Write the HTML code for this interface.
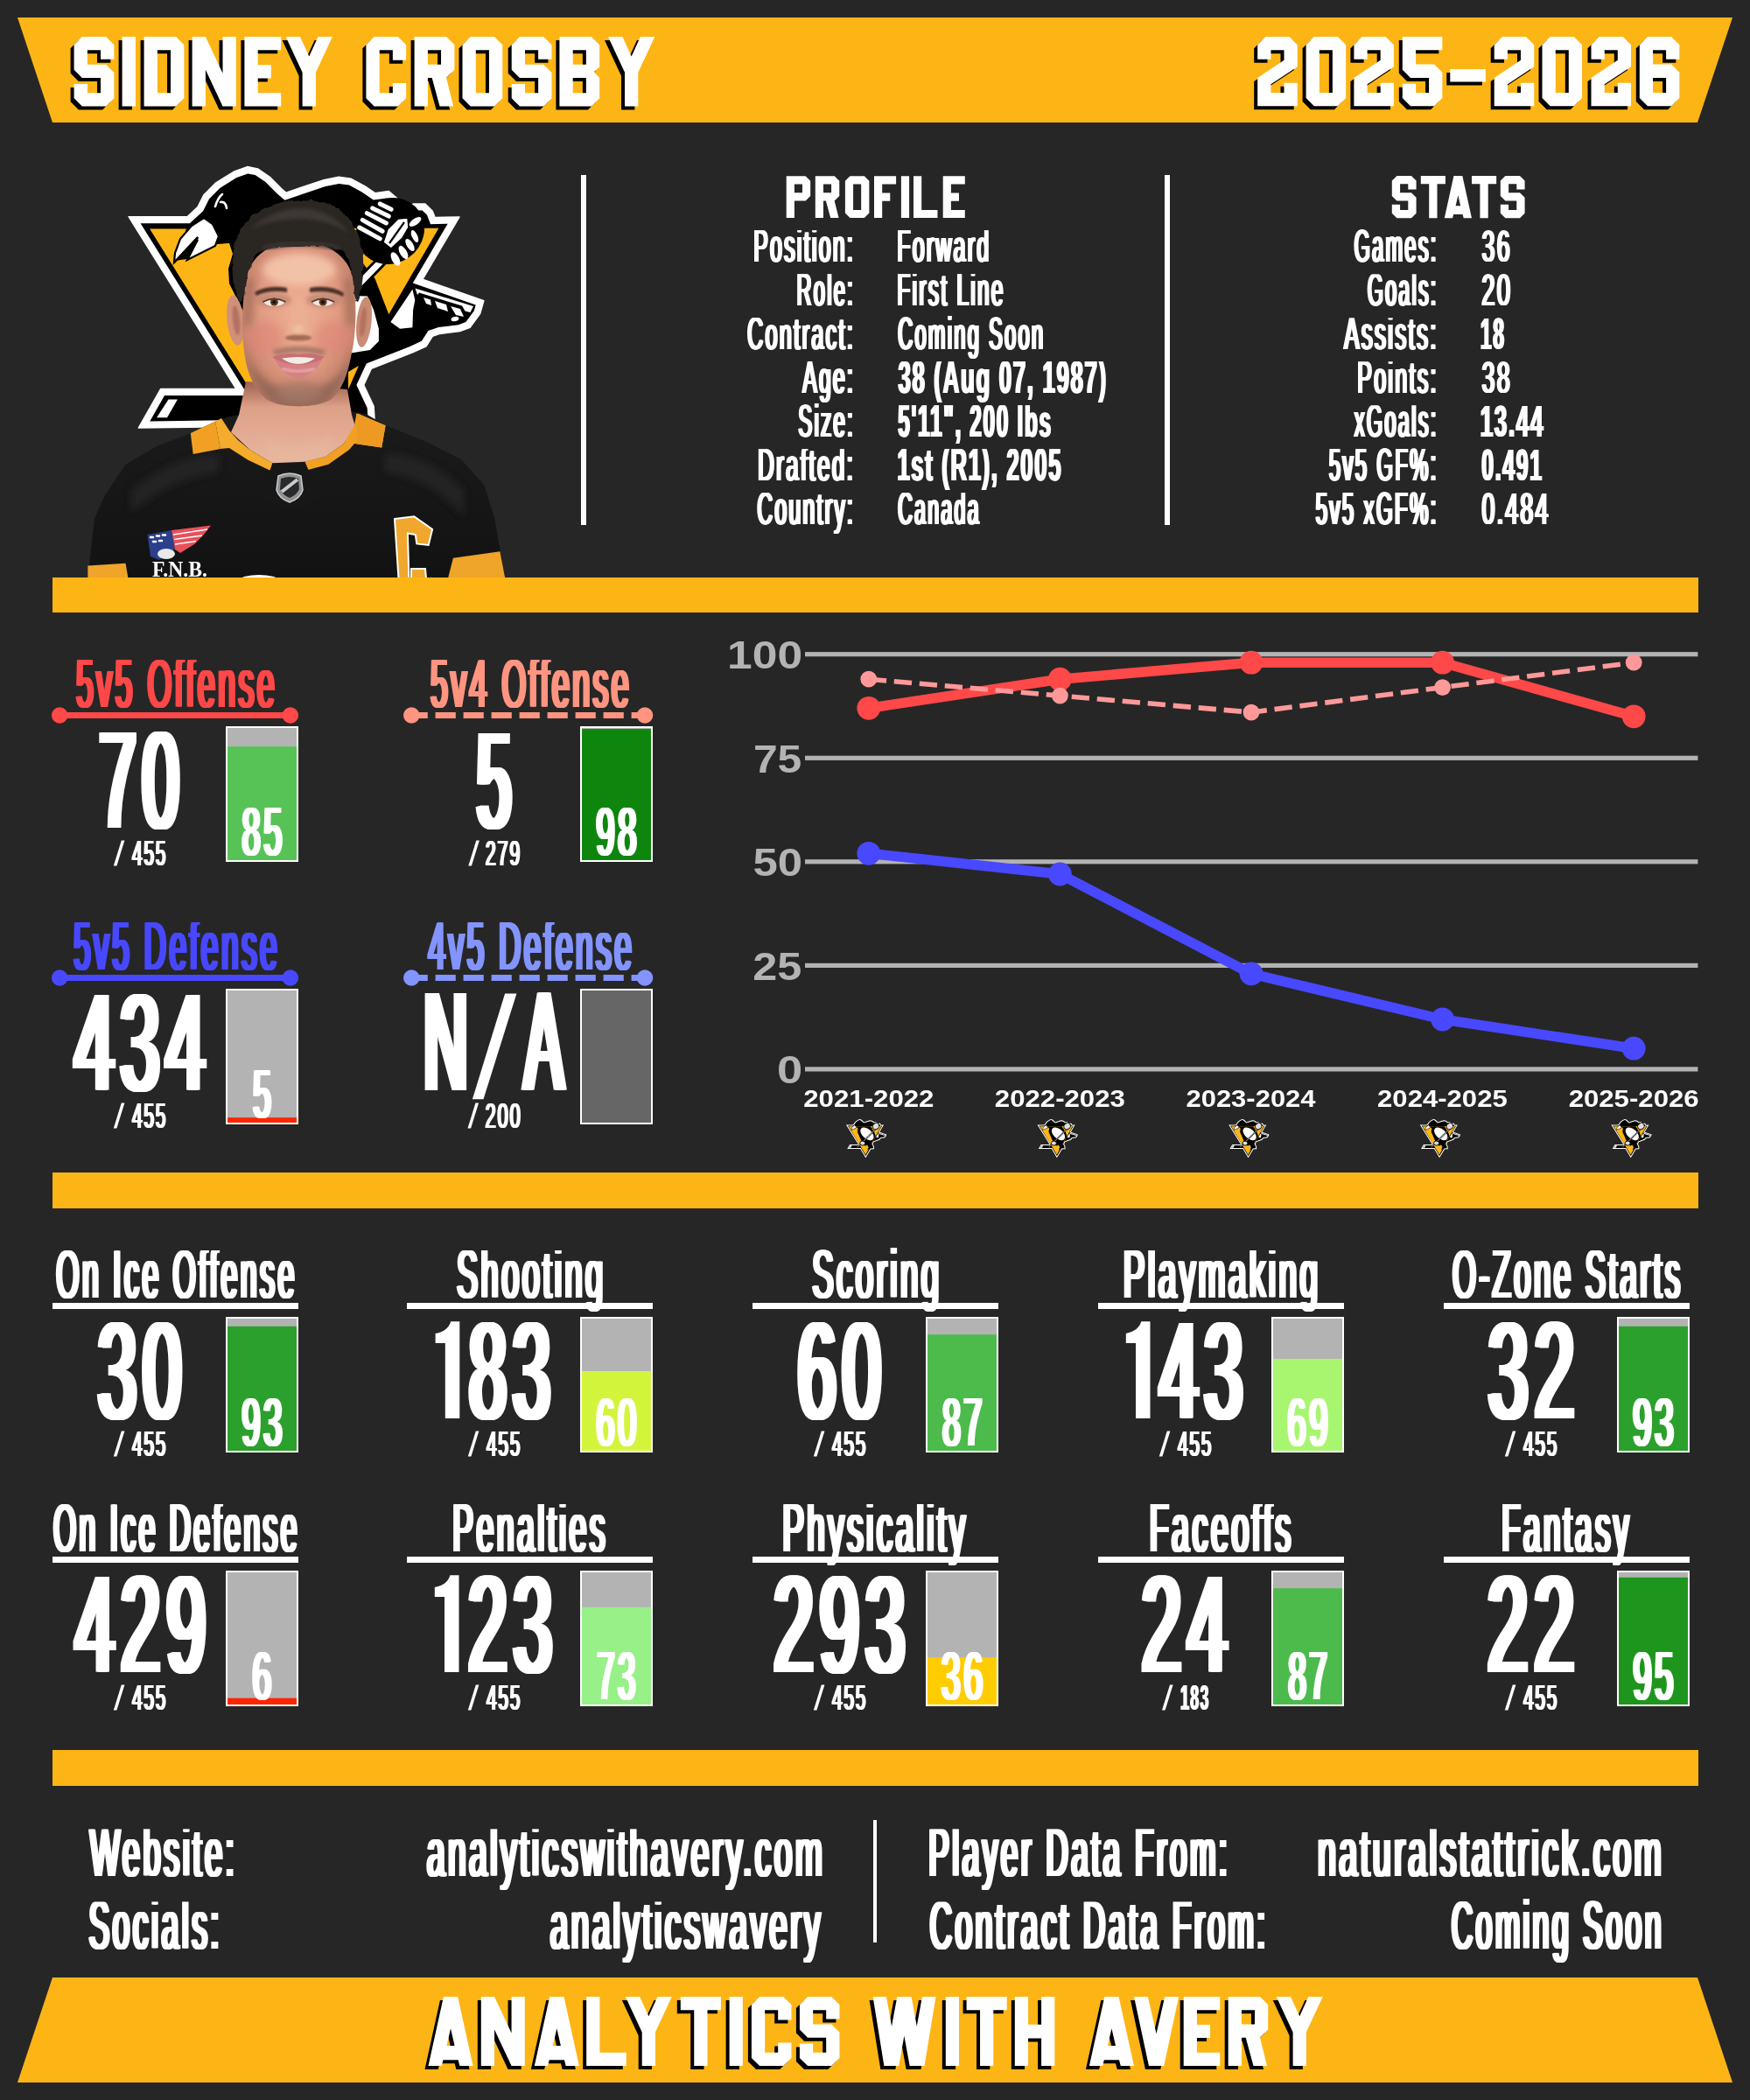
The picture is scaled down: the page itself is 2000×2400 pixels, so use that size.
<!DOCTYPE html><html><head><meta charset="utf-8"><title>Player Card</title>
<style>html,body{margin:0;padding:0;background:#262626;}svg{display:block;will-change:transform}text{font-family:"Liberation Sans",sans-serif;white-space:pre}</style></head><body>
<svg width="2000" height="2400" viewBox="0 0 2000 2400">
<rect width="2000" height="2400" fill="#262626"/>
<polygon points="20,20 1980,20 1940,140 60,140" fill="#FDB515"/>
<polygon points="60,2260 1940,2260 1980,2380 20,2380" fill="#FDB515"/>
<rect x="60" y="660" width="1881" height="40" fill="#FDB515"/>
<rect x="60" y="1340" width="1881" height="41" fill="#FDB515"/>
<rect x="60" y="2000" width="1881" height="41" fill="#FDB515"/>
<rect x="664" y="200" width="6" height="400" fill="#fff"/>
<rect x="1331" y="200" width="6" height="400" fill="#fff"/>
<rect x="998" y="2080" width="4" height="140" fill="#fff"/>
<g id="logo">
<polygon points="147.1,247.7 214.0,247.7 226.0,236.6 232.9,222.9 246.6,209.1 267.1,196.3 282.6,190.6 294.6,192.9 308.3,202.3 322.0,216.0 327.1,220.3 344.3,214.3 370.0,205.7 387.1,202.3 401.4,204.3 417.1,212.9 428.6,220.7 444.3,218.6 454.3,227.1 461.4,237.1 472.9,232.9 485.7,232.9 494.3,241.4 497.1,248.6 525.0,247.9 482.9,319.3 552.9,343.6 548.6,358.6 537.1,374.3 525.7,378.6 502.9,381.4 494.3,384.3 487.1,395.7 471.4,402.9 424.3,421.4 415.7,440.0 427.1,464.3 427.9,477.1 428.0,500.0 250.0,500.0 250.5,487.7 158.3,489.1 183.6,444.6 270.0,444.6" fill="#fff" stroke="#fff" stroke-width="1.5" stroke-linejoin="round"/>
<polygon points="160.6,255.2 283.5,452.1 188.0,452.1 171.3,481.4 258.3,480.1 257.8,492.5 420.5,492.5 420.4,477.4 419.7,466.2 407.4,440.0 418.8,415.5 468.5,396.0 481.9,389.8 489.4,378.0 501.2,374.0 523.9,371.3 532.4,368.1 541.8,355.2 543.7,348.4 471.8,323.4 511.7,255.7 492.0,256.2 487.9,245.6 482.6,240.4 474.2,240.4 458.6,246.1 448.7,232.2 442.0,226.5 426.8,228.5 413.2,219.3 399.0,211.5 387.3,209.9 371.9,213.0 346.7,221.4 325.5,228.8 316.9,221.5 303.5,208.1 291.6,200.0 283.2,198.4 270.4,203.1 251.3,215.0 239.1,227.3 232.1,241.2 216.9,255.2 160.6,255.2" fill="#000"/>
<polygon points="171.1,261.4 213.0,261.4 199.0,298.0 214.0,296.0 248.0,279.0 262.0,278.0 266.0,290.0 261.0,307.0 262.0,324.0 268.0,336.0 275.0,350.0 300.0,400.0 300.0,520.0 332.5,520.0" fill="#FDB515"/>
<polygon points="395.0,261.0 501.4,260.7 444.3,359.3 428.6,318.6 414.0,300.0 412.0,290.0 400.0,275.0" fill="#FDB515"/>
<polygon points="398.0,425.0 410.0,418.0 402.0,436.0 398.0,445.0" fill="#FDB515"/>
<path d="M233,249 L219,258 L206,273 L200,289 L199,300 L213,286 L226,274 L214,297 L246,281 L250,270 L243,256 Z" fill="#fff" stroke="#000" stroke-width="2.2" stroke-linejoin="miter"/>
<path d="M199,300 L226,271 L214,297" fill="none" stroke="#000" stroke-width="2.5"/>
<path d="M246,236 Q249,226 254,222 M252,231 Q258,230 259,238" fill="none" stroke="#fff" stroke-width="2.6" stroke-linecap="round"/>
<polygon points="398.0,338.0 420.0,338.6 427.1,354.3 432.9,375.7 432.9,390.0 422.9,400.0 398.0,404.0" fill="#fff"/>
<polygon points="446.4,367.9 471.4,330.7 474.3,342.9 472.1,354.3 471.4,374.3 457.1,375.7" fill="#fff"/>
<polygon points="474.5,329.5 541.0,350.0 537.5,357.0 531.5,355.5 528.0,349.5 479.0,334.5 477.0,337.0" fill="#fff"/>
<polygon points="484.0,340.0 492.0,342.5 493.0,349.0 487.0,347.0" fill="#fff"/>
<polygon points="497.0,344.0 510.0,348.0 512.0,356.0 500.0,352.0" fill="#fff"/>
<polygon points="515.0,350.0 526.0,353.0 530.0,362.0 521.0,360.0" fill="#fff"/>
<ellipse cx="520" cy="364.5" rx="4.5" ry="2.6" fill="#fff" transform="rotate(-12 520 364.5)"/>
<line x1="443" y1="291" x2="410" y2="325" stroke="#000" stroke-width="13"/>
<line x1="443" y1="291" x2="408" y2="327" stroke="#fff" stroke-width="7"/>
<ellipse cx="446" cy="264" rx="40" ry="37" fill="#000" transform="rotate(-35 446 264)"/>
<line x1="410.7" y1="260" x2="434.3" y2="272.9" stroke="#fff" stroke-width="5" stroke-linecap="round"/>
<line x1="414.3" y1="251.4" x2="437.1" y2="264.3" stroke="#fff" stroke-width="5" stroke-linecap="round"/>
<line x1="419.3" y1="243.6" x2="441.4" y2="255" stroke="#fff" stroke-width="5" stroke-linecap="round"/>
<line x1="425.7" y1="237.9" x2="444.3" y2="247.1" stroke="#fff" stroke-width="5" stroke-linecap="round"/>
<line x1="434.3" y1="232.9" x2="447.1" y2="239.3" stroke="#fff" stroke-width="5" stroke-linecap="round"/>
<polygon points="438.0,277.0 443.0,262.0 455.0,250.0 466.0,249.0 467.0,260.0 460.0,272.0 447.0,284.0" fill="#fff" stroke="#000" stroke-width="1.5"/>
<path d="M445,278 L462,254" stroke="#000" stroke-width="2.2" fill="none"/>
<ellipse cx="474.5" cy="253.5" rx="8" ry="3.6" fill="#fff" transform="rotate(-35 474.5 253.5)"/>
<ellipse cx="452" cy="296" rx="4.2" ry="8.5" fill="#fff" transform="rotate(-28 452 296)"/>
<ellipse cx="461" cy="288.5" rx="4" ry="8.5" fill="#fff" transform="rotate(-30 461 288.5)"/>
<ellipse cx="468.5" cy="280" rx="3.6" ry="8" fill="#fff" transform="rotate(-32 468.5 280)"/>
<ellipse cx="474" cy="270" rx="3.2" ry="7.5" fill="#fff" transform="rotate(-25 474 270)"/>
<polygon points="179.1,477.3 192.5,456.5 202.9,456.5 191.0,477.3" fill="#fff"/>
</g>
<defs>
<radialGradient id="skin" cx="0.5" cy="0.42" r="0.62"><stop offset="0" stop-color="#EFB196"/><stop offset="0.55" stop-color="#E29B82"/><stop offset="1" stop-color="#B97762"/></radialGradient>
<linearGradient id="neck" x1="0" y1="0" x2="0" y2="1"><stop offset="0" stop-color="#9C6250"/><stop offset="0.3" stop-color="#DDA088"/><stop offset="1" stop-color="#EAB8A0"/></linearGradient>
<linearGradient id="jersey" x1="0" y1="0" x2="0" y2="1"><stop offset="0" stop-color="#1b1b1b"/><stop offset="1" stop-color="#121212"/></linearGradient>
<filter id="rough" x="-10%" y="-10%" width="120%" height="120%"><feTurbulence type="fractalNoise" baseFrequency="0.12" numOctaves="2" seed="3" result="n"/><feDisplacementMap in="SourceGraphic" in2="n" scale="5" xChannelSelector="R" yChannelSelector="G"/></filter>
<filter id="bl1" x="-20%" y="-20%" width="140%" height="140%"><feGaussianBlur stdDeviation="1.2"/></filter>
<filter id="bl3" x="-30%" y="-30%" width="160%" height="160%"><feGaussianBlur stdDeviation="4"/></filter>
<filter id="bl2" x="-30%" y="-30%" width="160%" height="160%"><feGaussianBlur stdDeviation="2.2"/></filter>
<clipPath id="photoclip"><rect x="90" y="200" width="500" height="460"/></clipPath>
<clipPath id="faceclip"><path id="facepath" d="M281,322 C276,350 276,385 280,408 C283,428 291,445 304,456 C320,467 362,467 379,456 C391,445 397,428 401,408 C407,385 408,350 404,322 C400,290 370,276 342,276 C312,276 285,290 281,322 Z"/></clipPath>
</defs>
<g clip-path="url(#photoclip)">
<polygon points="100.4,661.0 107.8,593.0 119.7,566.4 143.5,530.7 179.1,510.0 217.8,495.0 246.0,481.7 262.0,476.0 300.0,470.0 400.0,470.0 418.0,473.0 440.6,486.0 485.2,504.0 526.8,524.8 553.5,554.5 565.4,593.0 577.3,661.0" fill="url(#jersey)"/>
<path d="M150,560 Q200,520 250,520 L250,540 Q200,545 150,585 Z" fill="#262626" filter="url(#bl3)" opacity="0.8"/>
<path d="M530,560 Q490,520 440,518 L440,540 Q490,545 530,590 Z" fill="#262626" filter="url(#bl3)" opacity="0.8"/>
<polygon points="281.0,436.0 273.0,474.3 264.0,494.0 286.1,514.4 311.4,529.3 330.0,534.0 348.5,527.8 372.3,521.8 393.1,507.0 406.0,487.0 402.0,474.3 397.0,445.0" fill="url(#neck)"/>
<path d="M300,500 Q338,522 380,498 L372,520 Q338,536 312,526 Z" fill="#E6B79C" filter="url(#bl3)" opacity="0.7"/>
<polygon points="217.8,495.1 246.0,481.7 251.9,512.9 220.7,518.9" fill="#F2A024"/>
<polygon points="246.0,481.7 253.0,478.0 262.0,492.0 272.0,503.0 286.0,514.4 311.4,529.3 311.4,539.0 283.1,525.5 262.0,512.0 251.9,512.9" fill="#F5AB2C"/>
<polygon points="348.5,527.8 372.3,521.8 393.1,507.0 405.0,486.2 407.4,472.8 409.4,472.8 440.6,486.2 436.2,511.4 405.0,507.0 399.0,514.0 375.3,530.7 350.0,537.5" fill="#F2A024"/>
<polygon points="407.4,472.8 440.6,486.2 436.2,511.4 408.0,507.5" fill="#EE9A22"/>
<polygon points="311.4,529.3 348.5,527.8 366.0,569.0 331.0,584.0 297.0,569.0" fill="#171717"/>
<path d="M318,544 Q331,538 344,544 L346,560 Q343,570 331,574 Q319,570 316,560 Z" fill="#8f9294" stroke="#c9cccf" stroke-width="1.5"/>
<path d="M321,547 Q331,543 341,547 L342,559 Q339,566 331,569 Q323,566 320,559 Z" fill="#2a2a2a"/>
<path d="M322,562 L340,548" stroke="#c9cccf" stroke-width="4"/>
<polygon points="100.4,646.6 143.5,643.7 146.5,661.0 100.4,661.0" fill="#EFA42A"/>
<polygon points="517.9,637.7 571.4,630.3 577.3,661.0 512.0,661.0" fill="#EFA42A"/>
<polygon points="451.0,593.1 473.3,590.2 494.1,605.0 489.7,622.9 476.3,621.4 474.8,611.0 465.9,609.5 467.4,661.0 455.5,661.0" fill="#F0A72E" stroke="#fff" stroke-width="2"/>
<polygon points="470.0,650.0 486.0,650.0 487.0,661.0 470.0,661.0" fill="#F0A72E" stroke="#fff" stroke-width="2"/>
<polygon points="168.5,611.0 196.0,606.0 200.0,628.0 182.0,640.0 172.0,636.0" fill="#2B3F8C"/>
<polygon points="196.0,606.0 241.0,600.5 232.0,612.0 222.0,622.0 206.0,632.0 200.0,628.0" fill="#E8505B"/>
<path d="M198,611 L237,605 M199,616.5 L231,612 M200,622 L224,618.5" stroke="#fff" stroke-width="1.6"/>
<path d="M172,614 l3,0 M179,612.5 l3,0 M186,611.5 l3,0 M175,619 l3,0 M182,618 l3,0" stroke="#fff" stroke-width="2.6" stroke-linecap="round"/>
<ellipse cx="190" cy="633" rx="10" ry="6" fill="#e9e9e9"/>
<text x="174" y="658.5" style="font-family:&quot;Liberation Serif&quot;,serif" font-weight="bold" font-size="26" fill="#fff" textLength="63" lengthAdjust="spacingAndGlyphs">F.N.B.</text>
<ellipse cx="296" cy="663" rx="22" ry="6" fill="#fff"/>
<ellipse cx="372" cy="664" rx="16" ry="4" fill="#fff"/>
<ellipse cx="269" cy="366" rx="9.5" ry="29" fill="#D0917A" transform="rotate(-6 269 366)"/>
<ellipse cx="416" cy="368" rx="8.5" ry="29" fill="#C98B74" transform="rotate(6 416 368)"/>
<ellipse cx="270" cy="366" rx="4" ry="17" fill="#B4715E" filter="url(#bl1)" transform="rotate(-6 270 366)"/>
<ellipse cx="415" cy="368" rx="3.5" ry="17" fill="#B4715E" filter="url(#bl1)" transform="rotate(6 415 368)"/>
<use href="#facepath" fill="url(#skin)"/>
<g clip-path="url(#faceclip)">
<ellipse cx="342" cy="308" rx="42" ry="18" fill="#F3C6AC" filter="url(#bl3)" opacity="0.9"/>
<ellipse cx="303" cy="386" rx="20" ry="19" fill="#DC8474" filter="url(#bl3)" opacity="0.55"/>
<ellipse cx="381" cy="386" rx="20" ry="19" fill="#DC8474" filter="url(#bl3)" opacity="0.55"/>
<path d="M279,395 C284,440 310,470 342,472 C374,470 400,440 405,395 C396,428 374,446 342,447 C310,446 288,428 279,395 Z" fill="#8C6555" filter="url(#bl3)" opacity="0.85"/>
<path d="M312,400 Q342,392 372,400 L370,406 Q342,399 314,406 Z" fill="#9A6E5E" filter="url(#bl2)" opacity="0.8"/>
<ellipse cx="342" cy="448" rx="26" ry="13" fill="#A57868" filter="url(#bl3)" opacity="0.75"/>
<path d="M279,318 L292,318 L288,372 L278,372 Z" fill="#A06C58" filter="url(#bl3)" opacity="0.7"/>
<path d="M405,318 L392,318 L396,372 L406,372 Z" fill="#A06C58" filter="url(#bl3)" opacity="0.7"/>
<ellipse cx="313" cy="343" rx="20" ry="8" fill="#B98570" filter="url(#bl2)" opacity="0.7"/>
<ellipse cx="370" cy="343" rx="20" ry="8" fill="#B98570" filter="url(#bl2)" opacity="0.7"/>
<path d="M291,334 Q306,325 328,329 L328,334 Q307,331 293,338 Z" fill="#4A3028" filter="url(#bl1)"/>
<path d="M354,329 Q378,325 393,335 L392,339 Q377,331 354,334 Z" fill="#4A3028" filter="url(#bl1)"/>
<ellipse cx="313.4" cy="345.6" rx="11.5" ry="4.2" fill="#F1E6E0"/>
<circle cx="313.4" cy="345.2" r="4.4" fill="#5B3A22"/>
<circle cx="313.4" cy="345.2" r="2" fill="#1a0f0a"/>
<path d="M300.4,345 Q313.4,338 326.4,345" stroke="#5a3a30" stroke-width="1.8" fill="none"/>
<ellipse cx="369.1" cy="345.6" rx="11.5" ry="4.2" fill="#F1E6E0"/>
<circle cx="369.1" cy="345.2" r="4.4" fill="#5B3A22"/>
<circle cx="369.1" cy="345.2" r="2" fill="#1a0f0a"/>
<path d="M356.1,345 Q369.1,338 382.1,345" stroke="#5a3a30" stroke-width="1.8" fill="none"/>
<path d="M336,350 Q332,372 326,382 Q342,392 357,382 Q351,372 347,350 Z" fill="#E9B093" filter="url(#bl2)" opacity="0.9"/>
<ellipse cx="341" cy="386" rx="15" ry="3.6" fill="#9B6450" filter="url(#bl1)" opacity="0.9"/>
<ellipse cx="341" cy="376" rx="6" ry="5" fill="#F2C3A8" filter="url(#bl2)" opacity="0.8"/>
<path d="M311,408 Q327,402 341,405 Q355,402 371,408 Q356,420 341,421 Q326,420 311,408 Z" fill="#C86F74"/>
<path d="M322,409.5 Q341,406.5 360,409.5 Q352,415.5 341,416 Q330,415.5 322,409.5 Z" fill="#F1ECE4"/>
<path d="M313,410 Q341,424 369,410 Q357,431 341,432 Q325,431 313,410 Z" fill="#D58287"/>
<path d="M322,421 Q341,428 360,421" stroke="#E9A6A6" stroke-width="3" fill="none" filter="url(#bl1)"/>
</g>
<path d="M270,338 C264,318 264,292 270,274 C278,252 296,238 316,233 C334,227 356,227 372,232 C392,238 406,254 412,276 C417,296 416,320 411,340 C408,352 405,340 404,326 C403,306 398,292 390,286 C374,279 356,281 342,282 C322,282 304,283 294,290 C286,298 283,312 281,328 C280,342 274,350 270,338 Z" fill="#2B2624" filter="url(#rough)"/>
<path d="M286,262 Q312,238 346,238 Q380,240 400,268 Q380,252 346,250 Q312,250 286,262 Z" fill="#403A37" filter="url(#bl2)" opacity="0.9"/>
<path d="M300,284 Q342,272 388,284" stroke="#3a3431" stroke-width="5" fill="none" filter="url(#bl2)"/>
</g>
<defs><path id="bk1" d="M93.85,42.00 L121.12,42.00 L130.37,51.25 L130.37,67.67 L115.05,67.67 L115.05,57.32 L99.92,57.32 L99.92,73.64 L121.12,73.64 L130.37,82.89 L130.37,112.35 L121.12,121.60 L93.85,121.60 L84.60,112.35 L84.60,95.93 L99.92,95.93 L99.92,106.28 L115.05,106.28 L115.05,89.06 L93.85,89.06 L84.60,79.81 L84.60,51.25Z M139.60,42.00 L154.92,42.00 L154.92,121.60 L139.60,121.60Z M164.60,42.00 L201.12,42.00 L210.37,51.25 L210.37,112.35 L201.12,121.60 L164.60,121.60Z M179.92,57.32 L195.05,57.32 L195.05,106.28 L179.92,106.28Z M219.60,42.00 L234.92,42.00 L254.52,83.79 L254.52,42.00 L269.85,42.00 L269.85,121.60 L254.52,121.60 L234.92,79.81 L234.92,121.60 L219.60,121.60Z M279.40,42.00 L321.19,42.00 L321.19,57.32 L294.72,57.32 L294.72,74.14 L309.85,74.14 L309.85,89.46 L294.72,89.46 L294.72,106.28 L321.19,106.28 L321.19,121.60 L279.40,121.60Z M326.60,42.00 L343.02,42.00 L353.27,64.39 L363.51,42.00 L379.93,42.00 L360.93,82.80 L360.93,121.60 L345.60,121.60 L345.60,82.80Z M427.65,42.00 L454.92,42.00 L464.17,51.25 L464.17,68.67 L448.85,68.67 L448.85,57.32 L433.72,57.32 L433.72,106.28 L448.85,106.28 L448.85,94.93 L464.17,94.93 L464.17,112.35 L454.92,121.60 L427.65,121.60 L418.40,112.35 L418.40,51.25Z M473.60,42.00 L510.12,42.00 L519.37,51.25 L519.37,79.81 L510.02,88.77 L518.18,121.60 L502.55,121.60 L493.70,89.06 L488.92,89.06 L488.92,121.60 L473.60,121.60Z M488.92,57.32 L504.05,57.32 L504.05,73.64 L488.92,73.64Z M537.75,42.00 L565.02,42.00 L574.27,51.25 L574.27,112.35 L565.02,121.60 L537.75,121.60 L528.50,112.35 L528.50,51.25Z M543.82,57.32 L558.95,57.32 L558.95,106.28 L543.82,106.28Z M593.95,42.00 L621.22,42.00 L630.47,51.25 L630.47,67.67 L615.15,67.67 L615.15,57.32 L600.02,57.32 L600.02,73.64 L621.22,73.64 L630.47,82.89 L630.47,112.35 L621.22,121.60 L593.95,121.60 L584.70,112.35 L584.70,95.93 L600.02,95.93 L600.02,106.28 L615.15,106.28 L615.15,89.06 L593.95,89.06 L584.70,79.81 L584.70,51.25Z M639.40,42.00 L675.92,42.00 L685.17,51.25 L685.17,76.43 L678.80,82.30 L685.17,88.67 L685.17,112.35 L675.92,121.60 L639.40,121.60Z M654.72,57.32 L669.85,57.32 L669.85,73.64 L654.72,73.64Z M654.72,89.06 L669.85,89.06 L669.85,106.28 L654.72,106.28Z M695.00,42.00 L711.42,42.00 L721.67,64.39 L731.91,42.00 L748.33,42.00 L729.33,82.80 L729.33,121.60 L714.00,121.60 L714.00,82.80Z" fill-rule="evenodd"/></defs>
<use href="#bk1" fill="#000" transform="translate(-4,4)"/>
<use href="#bk1" fill="#fff"/>
<defs><path id="bk2" d="M1446.41,42.10 L1473.53,42.10 L1482.74,51.31 L1482.74,76.16 L1452.45,96.35 L1452.45,106.05 L1467.49,106.05 L1467.49,94.77 L1482.74,94.77 L1482.74,121.30 L1437.20,121.30 L1437.20,89.12 L1467.49,68.83 L1467.49,57.35 L1452.45,57.35 L1452.45,67.64 L1437.20,67.64 L1437.20,51.31Z M1501.81,42.10 L1528.93,42.10 L1538.14,51.31 L1538.14,112.09 L1528.93,121.30 L1501.81,121.30 L1492.60,112.09 L1492.60,51.31Z M1507.85,57.35 L1522.89,57.35 L1522.89,106.05 L1507.85,106.05Z M1556.61,42.10 L1583.73,42.10 L1592.94,51.31 L1592.94,76.16 L1562.65,96.35 L1562.65,106.05 L1577.69,106.05 L1577.69,94.77 L1592.94,94.77 L1592.94,121.30 L1547.40,121.30 L1547.40,89.12 L1577.69,68.83 L1577.69,57.35 L1562.65,57.35 L1562.65,67.64 L1547.40,67.64 L1547.40,51.31Z M1602.80,42.10 L1648.34,42.10 L1648.34,57.35 L1618.05,57.35 L1618.05,73.58 L1639.13,73.58 L1648.34,82.79 L1648.34,112.09 L1639.13,121.30 L1612.01,121.30 L1602.80,112.09 L1602.80,95.76 L1618.05,95.76 L1618.05,106.05 L1633.09,106.05 L1633.09,88.93 L1612.01,88.93 L1602.80,79.72Z M1657.30,79.03 L1697.89,79.03 L1697.89,93.38 L1657.30,93.38Z M1716.91,42.10 L1744.03,42.10 L1753.24,51.31 L1753.24,76.16 L1722.95,96.35 L1722.95,106.05 L1737.99,106.05 L1737.99,94.77 L1753.24,94.77 L1753.24,121.30 L1707.70,121.30 L1707.70,89.12 L1737.99,68.83 L1737.99,57.35 L1722.95,57.35 L1722.95,67.64 L1707.70,67.64 L1707.70,51.31Z M1771.71,42.10 L1798.83,42.10 L1808.04,51.31 L1808.04,112.09 L1798.83,121.30 L1771.71,121.30 L1762.50,112.09 L1762.50,51.31Z M1777.75,57.35 L1792.79,57.35 L1792.79,106.05 L1777.75,106.05Z M1827.71,42.10 L1854.83,42.10 L1864.04,51.31 L1864.04,76.16 L1833.75,96.35 L1833.75,106.05 L1848.79,106.05 L1848.79,94.77 L1864.04,94.77 L1864.04,121.30 L1818.50,121.30 L1818.50,89.12 L1848.79,68.83 L1848.79,57.35 L1833.75,57.35 L1833.75,67.64 L1818.50,67.64 L1818.50,51.31Z M1883.01,42.10 L1910.13,42.10 L1919.34,51.31 L1919.34,67.64 L1904.09,67.64 L1904.09,57.35 L1889.05,57.35 L1889.05,73.58 L1910.13,73.58 L1919.34,82.79 L1919.34,112.09 L1910.13,121.30 L1883.01,121.30 L1873.80,112.09 L1873.80,51.31Z M1889.05,88.93 L1904.09,88.93 L1904.09,106.05 L1889.05,106.05Z" fill-rule="evenodd"/></defs>
<use href="#bk2" fill="#000" transform="translate(-4,4)"/>
<use href="#bk2" fill="#fff"/>
<defs><path id="bk3" d="M506.92,2281.90 L523.16,2281.90 L540.58,2361.10 L525.34,2361.10 L523.65,2354.17 L506.43,2354.17 L504.75,2361.10 L489.50,2361.10Z M515.04,2318.23 L519.60,2338.03 L510.49,2338.03Z M549.80,2281.90 L565.05,2281.90 L584.55,2323.48 L584.55,2281.90 L599.79,2281.90 L599.79,2361.10 L584.55,2361.10 L565.05,2319.52 L565.05,2361.10 L549.80,2361.10Z M628.22,2281.90 L644.46,2281.90 L661.88,2361.10 L646.64,2361.10 L644.95,2354.17 L627.73,2354.17 L626.05,2361.10 L610.80,2361.10Z M636.34,2318.23 L640.90,2338.03 L631.79,2338.03Z M670.20,2281.90 L685.45,2281.90 L685.45,2345.85 L715.74,2345.85 L715.74,2361.10 L670.20,2361.10Z M714.80,2281.90 L731.13,2281.90 L741.33,2304.18 L751.53,2281.90 L767.86,2281.90 L748.95,2322.49 L748.95,2361.10 L733.71,2361.10 L733.71,2322.49Z M777.80,2281.90 L823.93,2281.90 L823.93,2297.15 L808.49,2297.15 L808.49,2361.10 L793.24,2361.10 L793.24,2297.15 L777.80,2297.15Z M833.60,2281.90 L848.85,2281.90 L848.85,2361.10 L833.60,2361.10Z M868.11,2281.90 L895.23,2281.90 L904.44,2291.11 L904.44,2308.43 L889.19,2308.43 L889.19,2297.15 L874.15,2297.15 L874.15,2345.85 L889.19,2345.85 L889.19,2334.57 L904.44,2334.57 L904.44,2351.89 L895.23,2361.10 L868.11,2361.10 L858.90,2351.89 L858.90,2291.11Z M923.11,2281.90 L950.23,2281.90 L959.44,2291.11 L959.44,2307.44 L944.19,2307.44 L944.19,2297.15 L929.15,2297.15 L929.15,2313.38 L950.23,2313.38 L959.44,2322.59 L959.44,2351.89 L950.23,2361.10 L923.11,2361.10 L913.90,2351.89 L913.90,2335.56 L929.15,2335.56 L929.15,2345.85 L944.19,2345.85 L944.19,2328.73 L923.11,2328.73 L913.90,2319.52 L913.90,2291.11Z M997.60,2281.90 L1012.95,2281.90 L1019.08,2315.76 L1025.32,2281.90 L1041.56,2281.90 L1047.79,2315.76 L1053.93,2281.90 L1069.57,2281.90 L1056.51,2361.10 L1039.67,2361.10 L1033.34,2326.75 L1027.30,2361.10 L1010.37,2361.10Z M1080.80,2281.90 L1096.05,2281.90 L1096.05,2361.10 L1080.80,2361.10Z M1104.60,2281.90 L1150.73,2281.90 L1150.73,2297.15 L1135.29,2297.15 L1135.29,2361.10 L1120.04,2361.10 L1120.04,2297.15 L1104.60,2297.15Z M1159.80,2281.90 L1175.05,2281.90 L1175.05,2313.78 L1190.09,2313.78 L1190.09,2281.90 L1205.34,2281.90 L1205.34,2361.10 L1190.09,2361.10 L1190.09,2329.42 L1175.05,2329.42 L1175.05,2361.10 L1159.80,2361.10Z M1262.32,2281.90 L1278.56,2281.90 L1295.98,2361.10 L1280.74,2361.10 L1279.06,2354.17 L1261.83,2354.17 L1260.15,2361.10 L1244.90,2361.10Z M1270.44,2318.23 L1275.00,2338.03 L1265.89,2338.03Z M1296.00,2281.90 L1311.84,2281.90 L1321.54,2324.27 L1331.24,2281.90 L1347.18,2281.90 L1330.25,2361.10 L1312.93,2361.10Z M1352.70,2281.90 L1394.28,2281.90 L1394.28,2297.15 L1367.95,2297.15 L1367.95,2313.88 L1382.99,2313.88 L1382.99,2329.12 L1367.95,2329.12 L1367.95,2345.85 L1394.28,2345.85 L1394.28,2361.10 L1352.70,2361.10Z M1403.70,2281.90 L1440.03,2281.90 L1449.24,2291.11 L1449.24,2319.52 L1439.93,2328.43 L1448.05,2361.10 L1432.51,2361.10 L1423.70,2328.73 L1418.95,2328.73 L1418.95,2361.10 L1403.70,2361.10Z M1418.95,2297.15 L1433.99,2297.15 L1433.99,2313.38 L1418.95,2313.38Z M1458.70,2281.90 L1475.04,2281.90 L1485.23,2304.18 L1495.43,2281.90 L1511.76,2281.90 L1492.86,2322.49 L1492.86,2361.10 L1477.61,2361.10 L1477.61,2322.49Z" fill-rule="evenodd"/></defs>
<use href="#bk3" fill="#000" transform="translate(-4,4)"/>
<use href="#bk3" fill="#fff"/>
<defs><path id="bk4" d="M898.70,201.30 L920.63,201.30 L926.19,206.86 L926.19,224.01 L920.63,229.56 L907.90,229.56 L907.90,249.10 L898.70,249.10Z M907.90,210.50 L916.98,210.50 L916.98,220.30 L907.90,220.30Z M931.80,201.30 L953.73,201.30 L959.28,206.86 L959.28,224.01 L953.67,229.38 L958.57,249.10 L949.19,249.10 L943.87,229.56 L941.00,229.56 L941.00,249.10 L931.80,249.10Z M941.00,210.50 L950.08,210.50 L950.08,220.30 L941.00,220.30Z M971.46,201.30 L987.83,201.30 L993.38,206.86 L993.38,243.54 L987.83,249.10 L971.46,249.10 L965.90,243.54 L965.90,206.86Z M975.10,210.50 L984.18,210.50 L984.18,239.90 L975.10,239.90Z M999.00,201.30 L1024.10,201.30 L1024.10,210.50 L1008.20,210.50 L1008.20,220.60 L1017.28,220.60 L1017.28,229.80 L1008.20,229.80 L1008.20,249.10 L999.00,249.10Z M1029.90,201.30 L1039.10,201.30 L1039.10,249.10 L1029.90,249.10Z M1044.00,201.30 L1053.20,201.30 L1053.20,239.90 L1071.48,239.90 L1071.48,249.10 L1044.00,249.10Z M1077.70,201.30 L1102.80,201.30 L1102.80,210.50 L1086.90,210.50 L1086.90,220.60 L1095.98,220.60 L1095.98,229.80 L1086.90,229.80 L1086.90,239.90 L1102.80,239.90 L1102.80,249.10 L1077.70,249.10Z" fill-rule="evenodd"/></defs>
<use href="#bk4" fill="#fff"/>
<defs><path id="bk5" d="M1596.42,201.00 L1612.97,201.00 L1618.58,206.62 L1618.58,216.58 L1609.28,216.58 L1609.28,210.30 L1600.10,210.30 L1600.10,220.21 L1612.97,220.21 L1618.58,225.82 L1618.58,243.70 L1612.97,249.32 L1596.42,249.32 L1590.80,243.70 L1590.80,233.74 L1600.10,233.74 L1600.10,240.02 L1609.28,240.02 L1609.28,229.57 L1596.42,229.57 L1590.80,223.95 L1590.80,206.62Z M1623.80,201.00 L1651.95,201.00 L1651.95,210.30 L1642.52,210.30 L1642.52,249.32 L1633.22,249.32 L1633.22,210.30 L1623.80,210.30Z M1661.43,201.00 L1671.34,201.00 L1681.97,249.32 L1672.66,249.32 L1671.64,245.09 L1661.13,245.09 L1660.10,249.32 L1650.80,249.32Z M1666.38,223.17 L1669.16,235.25 L1663.60,235.25Z M1682.00,201.00 L1710.15,201.00 L1710.15,210.30 L1700.72,210.30 L1700.72,249.32 L1691.42,249.32 L1691.42,210.30 L1682.00,210.30Z M1720.42,201.00 L1736.97,201.00 L1742.58,206.62 L1742.58,216.58 L1733.28,216.58 L1733.28,210.30 L1724.10,210.30 L1724.10,220.21 L1736.97,220.21 L1742.58,225.82 L1742.58,243.70 L1736.97,249.32 L1720.42,249.32 L1714.80,243.70 L1714.80,233.74 L1724.10,233.74 L1724.10,240.02 L1733.28,240.02 L1733.28,229.57 L1720.42,229.57 L1714.80,223.95 L1714.80,206.62Z" fill-rule="evenodd"/></defs>
<use href="#bk5" fill="#fff"/>
<g fill="#fff" font-size="51.16" font-weight="normal" style="letter-spacing:4.984px" >
<text transform="translate(859.99,298.50) scale(0.4803,1)">Position:</text>
<text transform="translate(860.69,298.50) scale(0.4803,1)">Position:</text>
<text transform="translate(861.39,298.50) scale(0.4803,1)">Position:</text>
<text transform="translate(862.10,298.50) scale(0.4803,1)">Position:</text>
<text transform="translate(862.80,298.50) scale(0.4803,1)">Position:</text>
</g>
<rect x="861.0" y="260.5" width="114.0" height="2.6" fill="#262626"/>
<g fill="#fff" font-size="51.16" font-weight="normal" style="letter-spacing:4.968px" >
<text transform="translate(1023.98,298.50) scale(0.4818,1)">Forward</text>
<text transform="translate(1024.68,298.50) scale(0.4818,1)">Forward</text>
<text transform="translate(1025.39,298.50) scale(0.4818,1)">Forward</text>
<text transform="translate(1026.09,298.50) scale(0.4818,1)">Forward</text>
<text transform="translate(1026.79,298.50) scale(0.4818,1)">Forward</text>
</g>
<rect x="1025.0" y="260.5" width="106.0" height="2.6" fill="#262626"/>
<g fill="#fff" font-size="51.16" font-weight="normal" style="letter-spacing:5.252px" >
<text transform="translate(909.29,348.50) scale(0.4557,1)">Role:</text>
<text transform="translate(909.99,348.50) scale(0.4557,1)">Role:</text>
<text transform="translate(910.70,348.50) scale(0.4557,1)">Role:</text>
<text transform="translate(911.40,348.50) scale(0.4557,1)">Role:</text>
<text transform="translate(912.10,348.50) scale(0.4557,1)">Role:</text>
</g>
<rect x="910.2" y="310.5" width="64.8" height="2.6" fill="#262626"/>
<g fill="#fff" font-size="51.16" font-weight="normal" style="letter-spacing:5.061px" >
<text transform="translate(1024.02,348.50) scale(0.4729,1)">First Line</text>
<text transform="translate(1024.72,348.50) scale(0.4729,1)">First Line</text>
<text transform="translate(1025.42,348.50) scale(0.4729,1)">First Line</text>
<text transform="translate(1026.13,348.50) scale(0.4729,1)">First Line</text>
<text transform="translate(1026.83,348.50) scale(0.4729,1)">First Line</text>
</g>
<rect x="1025.0" y="310.5" width="122.8" height="2.6" fill="#262626"/>
<g fill="#fff" font-size="51.16" font-weight="normal" style="letter-spacing:4.894px" >
<text transform="translate(852.75,398.50) scale(0.4891,1)">Contract:</text>
<text transform="translate(853.45,398.50) scale(0.4891,1)">Contract:</text>
<text transform="translate(854.16,398.50) scale(0.4891,1)">Contract:</text>
<text transform="translate(854.86,398.50) scale(0.4891,1)">Contract:</text>
<text transform="translate(855.56,398.50) scale(0.4891,1)">Contract:</text>
</g>
<rect x="853.0" y="360.5" width="122.0" height="2.6" fill="#262626"/>
<g fill="#fff" font-size="51.16" font-weight="normal" style="letter-spacing:5.228px" >
<text transform="translate(1024.83,398.50) scale(0.4579,1)">Coming Soon</text>
<text transform="translate(1025.53,398.50) scale(0.4579,1)">Coming Soon</text>
<text transform="translate(1026.24,398.50) scale(0.4579,1)">Coming Soon</text>
<text transform="translate(1026.94,398.50) scale(0.4579,1)">Coming Soon</text>
<text transform="translate(1027.64,398.50) scale(0.4579,1)">Coming Soon</text>
</g>
<g fill="#fff" font-size="51.16" font-weight="normal" style="letter-spacing:5.016px" >
<text transform="translate(915.95,448.50) scale(0.4772,1)">Age:</text>
<text transform="translate(916.66,448.50) scale(0.4772,1)">Age:</text>
<text transform="translate(917.36,448.50) scale(0.4772,1)">Age:</text>
<text transform="translate(918.06,448.50) scale(0.4772,1)">Age:</text>
<text transform="translate(918.77,448.50) scale(0.4772,1)">Age:</text>
</g>
<g fill="#fff" font-size="51.16" font-weight="bold" style="letter-spacing:3.319px" >
<text transform="translate(1025.43,448.50) scale(0.5049,1)">38 (Aug 07, 1987)</text>
<text transform="translate(1026.42,448.50) scale(0.5049,1)">38 (Aug 07, 1987)</text>
<text transform="translate(1027.40,448.50) scale(0.5049,1)">38 (Aug 07, 1987)</text>
</g>
<rect x="1025.0" y="410.5" width="240.0" height="2.6" fill="#262626"/>
<g fill="#fff" font-size="51.16" font-weight="normal" style="letter-spacing:5.159px" >
<text transform="translate(910.96,498.50) scale(0.4639,1)">Size:</text>
<text transform="translate(911.66,498.50) scale(0.4639,1)">Size:</text>
<text transform="translate(912.36,498.50) scale(0.4639,1)">Size:</text>
<text transform="translate(913.07,498.50) scale(0.4639,1)">Size:</text>
<text transform="translate(913.77,498.50) scale(0.4639,1)">Size:</text>
</g>
<g fill="#fff" font-size="51.16" font-weight="bold" style="letter-spacing:3.511px" >
<text transform="translate(1025.27,498.50) scale(0.4773,1)">5&#x27;11&quot;, 200 lbs</text>
<text transform="translate(1026.25,498.50) scale(0.4773,1)">5&#x27;11&quot;, 200 lbs</text>
<text transform="translate(1027.24,498.50) scale(0.4773,1)">5&#x27;11&quot;, 200 lbs</text>
</g>
<rect x="1025.0" y="460.5" width="177.2" height="2.6" fill="#262626"/>
<g fill="#fff" font-size="51.16" font-weight="normal" style="letter-spacing:4.732px" >
<text transform="translate(864.68,548.50) scale(0.5058,1)">Drafted:</text>
<text transform="translate(865.38,548.50) scale(0.5058,1)">Drafted:</text>
<text transform="translate(866.09,548.50) scale(0.5058,1)">Drafted:</text>
<text transform="translate(866.79,548.50) scale(0.5058,1)">Drafted:</text>
<text transform="translate(867.49,548.50) scale(0.5058,1)">Drafted:</text>
</g>
<rect x="865.8" y="510.5" width="109.2" height="2.6" fill="#262626"/>
<g fill="#fff" font-size="51.16" font-weight="bold" style="letter-spacing:3.344px" >
<text transform="translate(1024.41,548.50) scale(0.5011,1)">1st (R1), 2005</text>
<text transform="translate(1025.40,548.50) scale(0.5011,1)">1st (R1), 2005</text>
<text transform="translate(1026.38,548.50) scale(0.5011,1)">1st (R1), 2005</text>
</g>
<rect x="1025.0" y="510.5" width="188.8" height="2.6" fill="#262626"/>
<g fill="#fff" font-size="51.16" font-weight="normal" style="letter-spacing:4.996px" >
<text transform="translate(863.97,598.50) scale(0.4791,1)">Country:</text>
<text transform="translate(864.68,598.50) scale(0.4791,1)">Country:</text>
<text transform="translate(865.38,598.50) scale(0.4791,1)">Country:</text>
<text transform="translate(866.09,598.50) scale(0.4791,1)">Country:</text>
<text transform="translate(866.79,598.50) scale(0.4791,1)">Country:</text>
</g>
<rect x="864.2" y="560.5" width="110.8" height="2.6" fill="#262626"/>
<g fill="#fff" font-size="51.16" font-weight="normal" style="letter-spacing:5.340px" >
<text transform="translate(1024.85,598.50) scale(0.4483,1)">Canada</text>
<text transform="translate(1025.56,598.50) scale(0.4483,1)">Canada</text>
<text transform="translate(1026.26,598.50) scale(0.4483,1)">Canada</text>
<text transform="translate(1026.97,598.50) scale(0.4483,1)">Canada</text>
<text transform="translate(1027.67,598.50) scale(0.4483,1)">Canada</text>
</g>
<rect x="1025.0" y="560.5" width="96.0" height="2.6" fill="#262626"/>
<g fill="#fff" font-size="51.16" font-weight="normal" style="letter-spacing:5.244px" >
<text transform="translate(1546.23,298.80) scale(0.4565,1)">Games:</text>
<text transform="translate(1546.94,298.80) scale(0.4565,1)">Games:</text>
<text transform="translate(1547.64,298.80) scale(0.4565,1)">Games:</text>
<text transform="translate(1548.34,298.80) scale(0.4565,1)">Games:</text>
<text transform="translate(1549.05,298.80) scale(0.4565,1)">Games:</text>
</g>
<g fill="#fff" font-size="50.29" font-weight="normal" style="letter-spacing:4.552px" >
<text transform="translate(1692.30,298.80) scale(0.5259,1)">36</text>
<text transform="translate(1693.00,298.80) scale(0.5259,1)">36</text>
<text transform="translate(1693.70,298.80) scale(0.5259,1)">36</text>
<text transform="translate(1694.41,298.80) scale(0.5259,1)">36</text>
<text transform="translate(1695.11,298.80) scale(0.5259,1)">36</text>
</g>
<g fill="#fff" font-size="51.16" font-weight="normal" style="letter-spacing:5.327px" >
<text transform="translate(1561.55,348.75) scale(0.4493,1)">Goals:</text>
<text transform="translate(1562.25,348.75) scale(0.4493,1)">Goals:</text>
<text transform="translate(1562.96,348.75) scale(0.4493,1)">Goals:</text>
<text transform="translate(1563.66,348.75) scale(0.4493,1)">Goals:</text>
<text transform="translate(1564.37,348.75) scale(0.4493,1)">Goals:</text>
</g>
<rect x="1561.7" y="310.7" width="80.0" height="2.6" fill="#262626"/>
<g fill="#fff" font-size="50.29" font-weight="normal" style="letter-spacing:4.435px" >
<text transform="translate(1691.94,348.75) scale(0.5397,1)">20</text>
<text transform="translate(1692.65,348.75) scale(0.5397,1)">20</text>
<text transform="translate(1693.35,348.75) scale(0.5397,1)">20</text>
<text transform="translate(1694.06,348.75) scale(0.5397,1)">20</text>
<text transform="translate(1694.76,348.75) scale(0.5397,1)">20</text>
</g>
<g fill="#fff" font-size="51.16" font-weight="normal" style="letter-spacing:4.763px" >
<text transform="translate(1534.85,398.70) scale(0.5025,1)">Assists:</text>
<text transform="translate(1535.55,398.70) scale(0.5025,1)">Assists:</text>
<text transform="translate(1536.26,398.70) scale(0.5025,1)">Assists:</text>
<text transform="translate(1536.96,398.70) scale(0.5025,1)">Assists:</text>
<text transform="translate(1537.66,398.70) scale(0.5025,1)">Assists:</text>
</g>
<rect x="1533.9" y="360.7" width="107.8" height="2.6" fill="#262626"/>
<g fill="#fff" font-size="50.29" font-weight="bold" style="letter-spacing:3.680px" >
<text transform="translate(1690.88,398.70) scale(0.4553,1)">18</text>
<text transform="translate(1691.87,398.70) scale(0.4553,1)">18</text>
<text transform="translate(1692.85,398.70) scale(0.4553,1)">18</text>
</g>
<g fill="#fff" font-size="51.16" font-weight="normal" style="letter-spacing:4.942px" >
<text transform="translate(1549.97,448.65) scale(0.4844,1)">Points:</text>
<text transform="translate(1550.67,448.65) scale(0.4844,1)">Points:</text>
<text transform="translate(1551.38,448.65) scale(0.4844,1)">Points:</text>
<text transform="translate(1552.08,448.65) scale(0.4844,1)">Points:</text>
<text transform="translate(1552.78,448.65) scale(0.4844,1)">Points:</text>
</g>
<rect x="1551.0" y="410.6" width="90.7" height="2.6" fill="#262626"/>
<g fill="#fff" font-size="50.29" font-weight="normal" style="letter-spacing:4.552px" >
<text transform="translate(1692.30,448.65) scale(0.5259,1)">38</text>
<text transform="translate(1693.00,448.65) scale(0.5259,1)">38</text>
<text transform="translate(1693.70,448.65) scale(0.5259,1)">38</text>
<text transform="translate(1694.41,448.65) scale(0.5259,1)">38</text>
<text transform="translate(1695.11,448.65) scale(0.5259,1)">38</text>
</g>
<g fill="#fff" font-size="51.16" font-weight="normal" style="letter-spacing:5.245px" >
<text transform="translate(1546.47,498.60) scale(0.4564,1)">xGoals:</text>
<text transform="translate(1547.17,498.60) scale(0.4564,1)">xGoals:</text>
<text transform="translate(1547.87,498.60) scale(0.4564,1)">xGoals:</text>
<text transform="translate(1548.58,498.60) scale(0.4564,1)">xGoals:</text>
<text transform="translate(1549.28,498.60) scale(0.4564,1)">xGoals:</text>
</g>
<rect x="1545.7" y="460.6" width="96.0" height="2.6" fill="#262626"/>
<g fill="#fff" font-size="50.29" font-weight="bold" style="letter-spacing:3.241px" >
<text transform="translate(1690.69,498.60) scale(0.5170,1)">13.44</text>
<text transform="translate(1691.67,498.60) scale(0.5170,1)">13.44</text>
<text transform="translate(1692.66,498.60) scale(0.5170,1)">13.44</text>
</g>
<g fill="#fff" font-size="51.16" font-weight="normal" style="letter-spacing:5.145px" >
<text transform="translate(1517.45,548.55) scale(0.4652,1)">5v5 GF%:</text>
<text transform="translate(1518.15,548.55) scale(0.4652,1)">5v5 GF%:</text>
<text transform="translate(1518.86,548.55) scale(0.4652,1)">5v5 GF%:</text>
<text transform="translate(1519.56,548.55) scale(0.4652,1)">5v5 GF%:</text>
<text transform="translate(1520.26,548.55) scale(0.4652,1)">5v5 GF%:</text>
</g>
<g fill="#fff" font-size="50.29" font-weight="bold" style="letter-spacing:3.405px" >
<text transform="translate(1692.36,548.55) scale(0.4921,1)">0.491</text>
<text transform="translate(1693.35,548.55) scale(0.4921,1)">0.491</text>
<text transform="translate(1694.33,548.55) scale(0.4921,1)">0.491</text>
</g>
<g fill="#fff" font-size="51.16" font-weight="normal" style="letter-spacing:5.109px" >
<text transform="translate(1502.34,598.50) scale(0.4685,1)">5v5 xGF%:</text>
<text transform="translate(1503.05,598.50) scale(0.4685,1)">5v5 xGF%:</text>
<text transform="translate(1503.75,598.50) scale(0.4685,1)">5v5 xGF%:</text>
<text transform="translate(1504.45,598.50) scale(0.4685,1)">5v5 xGF%:</text>
<text transform="translate(1505.16,598.50) scale(0.4685,1)">5v5 xGF%:</text>
</g>
<g fill="#fff" font-size="50.29" font-weight="normal" style="letter-spacing:4.566px" >
<text transform="translate(1692.30,598.50) scale(0.5242,1)">0.484</text>
<text transform="translate(1693.00,598.50) scale(0.5242,1)">0.484</text>
<text transform="translate(1693.71,598.50) scale(0.5242,1)">0.484</text>
<text transform="translate(1694.41,598.50) scale(0.5242,1)">0.484</text>
<text transform="translate(1695.11,598.50) scale(0.5242,1)">0.484</text>
</g>
<g fill="#FF4848" font-size="77.76" font-weight="normal" style="letter-spacing:7.993px" >
<text transform="translate(84.93,807.70) scale(0.4552,1)">5v5 Offense</text>
<text transform="translate(86.00,807.70) scale(0.4552,1)">5v5 Offense</text>
<text transform="translate(87.07,807.70) scale(0.4552,1)">5v5 Offense</text>
<text transform="translate(88.14,807.70) scale(0.4552,1)">5v5 Offense</text>
<text transform="translate(89.21,807.70) scale(0.4552,1)">5v5 Offense</text>
</g>
<rect x="85.4" y="750.0" width="229.9" height="4.0" fill="#262626"/>
<line x1="68.2" y1="817.5" x2="331.8" y2="817.5" stroke="#FF4848" stroke-width="7"/>
<circle cx="68.2" cy="817.5" r="9.3" fill="#FF4848"/><circle cx="331.8" cy="817.5" r="9.3" fill="#FF4848"/>
<g fill="#fff" font-size="157.86" font-weight="normal" style="letter-spacing:15.909px" >
<text transform="translate(109.52,946.00) scale(0.4723,1)">70</text>
<text transform="translate(110.63,946.00) scale(0.4723,1)">70</text>
<text transform="translate(111.73,946.00) scale(0.4723,1)">70</text>
<text transform="translate(112.84,946.00) scale(0.4723,1)">70</text>
<text transform="translate(113.94,946.00) scale(0.4723,1)">70</text>
<text transform="translate(115.05,946.00) scale(0.4723,1)">70</text>
<text transform="translate(116.15,946.00) scale(0.4723,1)">70</text>
<text transform="translate(117.26,946.00) scale(0.4723,1)">70</text>
<text transform="translate(118.36,946.00) scale(0.4723,1)">70</text>
</g>
<polygon points="129.8,989.4 133.4,989.4 142.4,960.4 138.8,960.4" fill="#fff"/>
<g fill="#fff" font-size="40.71" font-weight="normal" style="letter-spacing:3.823px" >
<text transform="translate(149.95,989.40) scale(0.5069,1)">455</text>
<text transform="translate(151.09,989.40) scale(0.5069,1)">455</text>
<text transform="translate(152.23,989.40) scale(0.5069,1)">455</text>
</g>
<rect x="258" y="830" width="83" height="155" fill="#fff"/>
<rect x="260" y="832" width="79" height="151" fill="#b3b3b3"/>
<rect x="260" y="853.2" width="79" height="129.8" fill="#57C357"/>
<g fill="#fff" font-size="77.86" font-weight="normal" style="letter-spacing:7.653px" >
<text transform="translate(274.47,976.70) scale(0.4843,1)">85</text>
<text transform="translate(275.56,976.70) scale(0.4843,1)">85</text>
<text transform="translate(276.65,976.70) scale(0.4843,1)">85</text>
<text transform="translate(277.74,976.70) scale(0.4843,1)">85</text>
<text transform="translate(278.83,976.70) scale(0.4843,1)">85</text>
</g>
<g fill="#FF9580" font-size="77.76" font-weight="normal" style="letter-spacing:7.993px" >
<text transform="translate(489.93,807.70) scale(0.4552,1)">5v4 Offense</text>
<text transform="translate(491.00,807.70) scale(0.4552,1)">5v4 Offense</text>
<text transform="translate(492.07,807.70) scale(0.4552,1)">5v4 Offense</text>
<text transform="translate(493.14,807.70) scale(0.4552,1)">5v4 Offense</text>
<text transform="translate(494.21,807.70) scale(0.4552,1)">5v4 Offense</text>
</g>
<rect x="490.3" y="750.0" width="229.9" height="4.0" fill="#262626"/>
<line x1="470.3" y1="817.5" x2="737" y2="817.5" stroke="#FF9580" stroke-width="7" stroke-dasharray="23.2 8.8" stroke-dashoffset="4.699999999999999"/>
<circle cx="470.3" cy="817.5" r="9.3" fill="#FF9580"/><circle cx="737" cy="817.5" r="9.3" fill="#FF9580"/>
<g fill="#fff" font-size="157.86" font-weight="normal" style="letter-spacing:16.874px" >
<text transform="translate(540.64,946.00) scale(0.4453,1)">5</text>
<text transform="translate(541.74,946.00) scale(0.4453,1)">5</text>
<text transform="translate(542.85,946.00) scale(0.4453,1)">5</text>
<text transform="translate(543.95,946.00) scale(0.4453,1)">5</text>
<text transform="translate(545.06,946.00) scale(0.4453,1)">5</text>
<text transform="translate(546.16,946.00) scale(0.4453,1)">5</text>
<text transform="translate(547.27,946.00) scale(0.4453,1)">5</text>
<text transform="translate(548.37,946.00) scale(0.4453,1)">5</text>
<text transform="translate(549.48,946.00) scale(0.4453,1)">5</text>
</g>
<polygon points="535.3,989.4 538.9,989.4 547.9,960.4 544.3,960.4" fill="#fff"/>
<g fill="#fff" font-size="40.71" font-weight="normal" style="letter-spacing:3.709px" >
<text transform="translate(553.64,989.40) scale(0.5225,1)">279</text>
<text transform="translate(554.78,989.40) scale(0.5225,1)">279</text>
<text transform="translate(555.92,989.40) scale(0.5225,1)">279</text>
</g>
<rect x="663" y="830" width="83" height="155" fill="#fff"/>
<rect x="665" y="832" width="79" height="151" fill="#b3b3b3"/>
<rect x="665" y="833.1" width="79" height="149.9" fill="#0E860E"/>
<g fill="#fff" font-size="77.86" font-weight="normal" style="letter-spacing:7.589px" >
<text transform="translate(679.25,976.70) scale(0.4883,1)">98</text>
<text transform="translate(680.34,976.70) scale(0.4883,1)">98</text>
<text transform="translate(681.43,976.70) scale(0.4883,1)">98</text>
<text transform="translate(682.52,976.70) scale(0.4883,1)">98</text>
<text transform="translate(683.61,976.70) scale(0.4883,1)">98</text>
</g>
<g fill="#4848FF" font-size="77.76" font-weight="normal" style="letter-spacing:8.096px" >
<text transform="translate(81.95,1107.70) scale(0.4494,1)">5v5 Defense</text>
<text transform="translate(83.02,1107.70) scale(0.4494,1)">5v5 Defense</text>
<text transform="translate(84.09,1107.70) scale(0.4494,1)">5v5 Defense</text>
<text transform="translate(85.16,1107.70) scale(0.4494,1)">5v5 Defense</text>
<text transform="translate(86.23,1107.70) scale(0.4494,1)">5v5 Defense</text>
</g>
<rect x="82.4" y="1050.0" width="235.9" height="4.0" fill="#262626"/>
<line x1="68.2" y1="1117.5" x2="331.8" y2="1117.5" stroke="#4848FF" stroke-width="7"/>
<circle cx="68.2" cy="1117.5" r="9.3" fill="#4848FF"/><circle cx="331.8" cy="1117.5" r="9.3" fill="#4848FF"/>
<g fill="#fff" font-size="157.86" font-weight="normal" style="letter-spacing:14.793px" >
<text transform="translate(81.04,1246.00) scale(0.5079,1)">434</text>
<text transform="translate(82.14,1246.00) scale(0.5079,1)">434</text>
<text transform="translate(83.25,1246.00) scale(0.5079,1)">434</text>
<text transform="translate(84.35,1246.00) scale(0.5079,1)">434</text>
<text transform="translate(85.46,1246.00) scale(0.5079,1)">434</text>
<text transform="translate(86.56,1246.00) scale(0.5079,1)">434</text>
<text transform="translate(87.67,1246.00) scale(0.5079,1)">434</text>
<text transform="translate(88.77,1246.00) scale(0.5079,1)">434</text>
<text transform="translate(89.88,1246.00) scale(0.5079,1)">434</text>
</g>
<polygon points="129.8,1289.4 133.4,1289.4 142.4,1260.4 138.8,1260.4" fill="#fff"/>
<g fill="#fff" font-size="40.71" font-weight="normal" style="letter-spacing:3.823px" >
<text transform="translate(149.95,1289.40) scale(0.5069,1)">455</text>
<text transform="translate(151.09,1289.40) scale(0.5069,1)">455</text>
<text transform="translate(152.23,1289.40) scale(0.5069,1)">455</text>
</g>
<rect x="258" y="1130" width="83" height="155" fill="#fff"/>
<rect x="260" y="1132" width="79" height="151" fill="#b3b3b3"/>
<rect x="260" y="1277.2" width="79" height="5.8" fill="#FF2400"/>
<g fill="#fff" font-size="77.86" font-weight="normal" style="letter-spacing:7.830px" >
<text transform="translate(287.08,1276.70) scale(0.4733,1)">5</text>
<text transform="translate(288.17,1276.70) scale(0.4733,1)">5</text>
<text transform="translate(289.26,1276.70) scale(0.4733,1)">5</text>
<text transform="translate(290.35,1276.70) scale(0.4733,1)">5</text>
<text transform="translate(291.44,1276.70) scale(0.4733,1)">5</text>
</g>
<g fill="#8394FF" font-size="77.76" font-weight="normal" style="letter-spacing:8.118px" >
<text transform="translate(487.53,1107.70) scale(0.4481,1)">4v5 Defense</text>
<text transform="translate(488.60,1107.70) scale(0.4481,1)">4v5 Defense</text>
<text transform="translate(489.67,1107.70) scale(0.4481,1)">4v5 Defense</text>
<text transform="translate(490.74,1107.70) scale(0.4481,1)">4v5 Defense</text>
<text transform="translate(491.81,1107.70) scale(0.4481,1)">4v5 Defense</text>
</g>
<rect x="487.3" y="1050.0" width="236.0" height="4.0" fill="#262626"/>
<line x1="470.3" y1="1117.5" x2="737" y2="1117.5" stroke="#8394FF" stroke-width="7" stroke-dasharray="23.2 8.8" stroke-dashoffset="4.699999999999999"/>
<circle cx="470.3" cy="1117.5" r="9.3" fill="#8394FF"/><circle cx="737" cy="1117.5" r="9.3" fill="#8394FF"/>
<g fill="#fff" font-size="160.61" font-weight="normal" style="letter-spacing:17.436px" >
<text transform="translate(480.02,1246.00) scale(0.4309,1)">N</text>
<text transform="translate(481.13,1246.00) scale(0.4309,1)">N</text>
<text transform="translate(482.23,1246.00) scale(0.4309,1)">N</text>
<text transform="translate(483.34,1246.00) scale(0.4309,1)">N</text>
<text transform="translate(484.44,1246.00) scale(0.4309,1)">N</text>
<text transform="translate(485.55,1246.00) scale(0.4309,1)">N</text>
<text transform="translate(486.65,1246.00) scale(0.4309,1)">N</text>
<text transform="translate(487.76,1246.00) scale(0.4309,1)">N</text>
<text transform="translate(488.86,1246.00) scale(0.4309,1)">N</text>
</g>
<polygon points="577.1,1135.6 590.4,1135.6 552.5,1256.3 539.9,1256.3" fill="#fff"/>
<g fill="#fff" font-size="160.61" font-weight="normal" style="letter-spacing:18.312px" >
<text transform="translate(595.27,1246.00) scale(0.4103,1)">A</text>
<text transform="translate(596.37,1246.00) scale(0.4103,1)">A</text>
<text transform="translate(597.48,1246.00) scale(0.4103,1)">A</text>
<text transform="translate(598.58,1246.00) scale(0.4103,1)">A</text>
<text transform="translate(599.69,1246.00) scale(0.4103,1)">A</text>
<text transform="translate(600.79,1246.00) scale(0.4103,1)">A</text>
<text transform="translate(601.90,1246.00) scale(0.4103,1)">A</text>
<text transform="translate(603.00,1246.00) scale(0.4103,1)">A</text>
<text transform="translate(604.11,1246.00) scale(0.4103,1)">A</text>
</g>
<polygon points="534.5,1289.4 538.1,1289.4 547.1,1260.4 543.5,1260.4" fill="#fff"/>
<g fill="#fff" font-size="40.71" font-weight="normal" style="letter-spacing:3.641px" >
<text transform="translate(553.52,1289.40) scale(0.5323,1)">200</text>
<text transform="translate(554.66,1289.40) scale(0.5323,1)">200</text>
<text transform="translate(555.80,1289.40) scale(0.5323,1)">200</text>
</g>
<rect x="663" y="1130" width="83" height="155" fill="#fff"/>
<rect x="665" y="1132" width="79" height="151" fill="#666666"/>
<g fill="#fff" font-size="77.76" font-weight="normal" style="letter-spacing:8.451px" >
<text transform="translate(62.21,1482.70) scale(0.4305,1)">On Ice Offense</text>
<text transform="translate(63.28,1482.70) scale(0.4305,1)">On Ice Offense</text>
<text transform="translate(64.35,1482.70) scale(0.4305,1)">On Ice Offense</text>
<text transform="translate(65.42,1482.70) scale(0.4305,1)">On Ice Offense</text>
<text transform="translate(66.49,1482.70) scale(0.4305,1)">On Ice Offense</text>
</g>
<rect x="62.8" y="1425.0" width="275.1" height="4.0" fill="#262626"/>
<rect x="60" y="1489" width="281" height="7" fill="#fff"/>
<g fill="#fff" font-size="157.86" font-weight="normal" style="letter-spacing:15.088px" >
<text transform="translate(107.71,1621.00) scale(0.4980,1)">30</text>
<text transform="translate(108.82,1621.00) scale(0.4980,1)">30</text>
<text transform="translate(109.92,1621.00) scale(0.4980,1)">30</text>
<text transform="translate(111.03,1621.00) scale(0.4980,1)">30</text>
<text transform="translate(112.13,1621.00) scale(0.4980,1)">30</text>
<text transform="translate(113.24,1621.00) scale(0.4980,1)">30</text>
<text transform="translate(114.34,1621.00) scale(0.4980,1)">30</text>
<text transform="translate(115.45,1621.00) scale(0.4980,1)">30</text>
<text transform="translate(116.55,1621.00) scale(0.4980,1)">30</text>
</g>
<polygon points="129.8,1664.4 133.4,1664.4 142.4,1635.4 138.8,1635.4" fill="#fff"/>
<g fill="#fff" font-size="40.71" font-weight="normal" style="letter-spacing:3.823px" >
<text transform="translate(149.95,1664.40) scale(0.5069,1)">455</text>
<text transform="translate(151.09,1664.40) scale(0.5069,1)">455</text>
<text transform="translate(152.23,1664.40) scale(0.5069,1)">455</text>
</g>
<rect x="258" y="1505" width="83" height="155" fill="#fff"/>
<rect x="260" y="1507" width="79" height="151" fill="#b3b3b3"/>
<rect x="260" y="1515.8" width="79" height="142.2" fill="#2CA02C"/>
<g fill="#fff" font-size="77.86" font-weight="normal" style="letter-spacing:7.589px" >
<text transform="translate(274.25,1651.70) scale(0.4883,1)">93</text>
<text transform="translate(275.34,1651.70) scale(0.4883,1)">93</text>
<text transform="translate(276.43,1651.70) scale(0.4883,1)">93</text>
<text transform="translate(277.52,1651.70) scale(0.4883,1)">93</text>
<text transform="translate(278.61,1651.70) scale(0.4883,1)">93</text>
</g>
<g fill="#fff" font-size="77.76" font-weight="normal" style="letter-spacing:7.892px" >
<text transform="translate(520.02,1482.70) scale(0.4610,1)">Shooting</text>
<text transform="translate(521.09,1482.70) scale(0.4610,1)">Shooting</text>
<text transform="translate(522.16,1482.70) scale(0.4610,1)">Shooting</text>
<text transform="translate(523.23,1482.70) scale(0.4610,1)">Shooting</text>
<text transform="translate(524.30,1482.70) scale(0.4610,1)">Shooting</text>
</g>
<rect x="520.6" y="1425.0" width="169.4" height="4.0" fill="#262626"/>
<rect x="465" y="1489" width="281" height="7" fill="#fff"/>
<path d="M515.20,1510.30 Q512.00,1521.50 497.60,1523.90 L497.60,1535.10 L508.80,1535.10 L508.80,1621.00 L525.30,1621.00 L525.30,1510.30 Z" fill="#fff"/>
<g fill="#fff" font-size="157.86" font-weight="normal" style="letter-spacing:15.584px" >
<text transform="translate(532.00,1621.00) scale(0.4822,1)">83</text>
<text transform="translate(533.11,1621.00) scale(0.4822,1)">83</text>
<text transform="translate(534.21,1621.00) scale(0.4822,1)">83</text>
<text transform="translate(535.32,1621.00) scale(0.4822,1)">83</text>
<text transform="translate(536.42,1621.00) scale(0.4822,1)">83</text>
<text transform="translate(537.53,1621.00) scale(0.4822,1)">83</text>
<text transform="translate(538.63,1621.00) scale(0.4822,1)">83</text>
<text transform="translate(539.74,1621.00) scale(0.4822,1)">83</text>
<text transform="translate(540.84,1621.00) scale(0.4822,1)">83</text>
</g>
<polygon points="534.8,1664.4 538.4,1664.4 547.4,1635.4 543.8,1635.4" fill="#fff"/>
<g fill="#fff" font-size="40.71" font-weight="normal" style="letter-spacing:3.823px" >
<text transform="translate(554.95,1664.40) scale(0.5069,1)">455</text>
<text transform="translate(556.09,1664.40) scale(0.5069,1)">455</text>
<text transform="translate(557.23,1664.40) scale(0.5069,1)">455</text>
</g>
<rect x="663" y="1505" width="83" height="155" fill="#fff"/>
<rect x="665" y="1507" width="79" height="151" fill="#b3b3b3"/>
<rect x="665" y="1567.0" width="79" height="91.0" fill="#D2F53C"/>
<g fill="#fff" font-size="77.86" font-weight="normal" style="letter-spacing:7.608px" >
<text transform="translate(679.15,1651.70) scale(0.4871,1)">60</text>
<text transform="translate(680.24,1651.70) scale(0.4871,1)">60</text>
<text transform="translate(681.33,1651.70) scale(0.4871,1)">60</text>
<text transform="translate(682.42,1651.70) scale(0.4871,1)">60</text>
<text transform="translate(683.51,1651.70) scale(0.4871,1)">60</text>
</g>
<g fill="#fff" font-size="77.76" font-weight="normal" style="letter-spacing:7.809px" >
<text transform="translate(926.21,1482.70) scale(0.4659,1)">Scoring</text>
<text transform="translate(927.28,1482.70) scale(0.4659,1)">Scoring</text>
<text transform="translate(928.35,1482.70) scale(0.4659,1)">Scoring</text>
<text transform="translate(929.42,1482.70) scale(0.4659,1)">Scoring</text>
<text transform="translate(930.49,1482.70) scale(0.4659,1)">Scoring</text>
</g>
<rect x="860" y="1489" width="281" height="7" fill="#fff"/>
<g fill="#fff" font-size="157.86" font-weight="normal" style="letter-spacing:15.117px" >
<text transform="translate(907.33,1621.00) scale(0.4970,1)">60</text>
<text transform="translate(908.43,1621.00) scale(0.4970,1)">60</text>
<text transform="translate(909.54,1621.00) scale(0.4970,1)">60</text>
<text transform="translate(910.64,1621.00) scale(0.4970,1)">60</text>
<text transform="translate(911.75,1621.00) scale(0.4970,1)">60</text>
<text transform="translate(912.85,1621.00) scale(0.4970,1)">60</text>
<text transform="translate(913.96,1621.00) scale(0.4970,1)">60</text>
<text transform="translate(915.06,1621.00) scale(0.4970,1)">60</text>
<text transform="translate(916.17,1621.00) scale(0.4970,1)">60</text>
</g>
<polygon points="929.8,1664.4 933.4,1664.4 942.4,1635.4 938.8,1635.4" fill="#fff"/>
<g fill="#fff" font-size="40.71" font-weight="normal" style="letter-spacing:3.823px" >
<text transform="translate(949.95,1664.40) scale(0.5069,1)">455</text>
<text transform="translate(951.09,1664.40) scale(0.5069,1)">455</text>
<text transform="translate(952.23,1664.40) scale(0.5069,1)">455</text>
</g>
<rect x="1058" y="1505" width="83" height="155" fill="#fff"/>
<rect x="1060" y="1507" width="79" height="151" fill="#b3b3b3"/>
<rect x="1060" y="1525.2" width="79" height="132.8" fill="#4CBB4C"/>
<g fill="#fff" font-size="77.86" font-weight="normal" style="letter-spacing:7.738px" >
<text transform="translate(1074.88,1651.70) scale(0.4789,1)">87</text>
<text transform="translate(1075.97,1651.70) scale(0.4789,1)">87</text>
<text transform="translate(1077.06,1651.70) scale(0.4789,1)">87</text>
<text transform="translate(1078.15,1651.70) scale(0.4789,1)">87</text>
<text transform="translate(1079.24,1651.70) scale(0.4789,1)">87</text>
</g>
<g fill="#fff" font-size="77.76" font-weight="normal" style="letter-spacing:7.722px" >
<text transform="translate(1281.80,1482.70) scale(0.4711,1)">Playmaking</text>
<text transform="translate(1282.87,1482.70) scale(0.4711,1)">Playmaking</text>
<text transform="translate(1283.94,1482.70) scale(0.4711,1)">Playmaking</text>
<text transform="translate(1285.01,1482.70) scale(0.4711,1)">Playmaking</text>
<text transform="translate(1286.08,1482.70) scale(0.4711,1)">Playmaking</text>
</g>
<rect x="1283.8" y="1425.0" width="223.0" height="4.0" fill="#262626"/>
<rect x="1255" y="1489" width="281" height="7" fill="#fff"/>
<path d="M1304.40,1510.30 Q1301.20,1521.50 1286.80,1523.90 L1286.80,1535.10 L1298.00,1535.10 L1298.00,1621.00 L1314.50,1621.00 L1314.50,1510.30 Z" fill="#fff"/>
<g fill="#fff" font-size="157.86" font-weight="normal" style="letter-spacing:15.151px" >
<text transform="translate(1321.08,1621.00) scale(0.4959,1)">43</text>
<text transform="translate(1322.18,1621.00) scale(0.4959,1)">43</text>
<text transform="translate(1323.29,1621.00) scale(0.4959,1)">43</text>
<text transform="translate(1324.39,1621.00) scale(0.4959,1)">43</text>
<text transform="translate(1325.50,1621.00) scale(0.4959,1)">43</text>
<text transform="translate(1326.60,1621.00) scale(0.4959,1)">43</text>
<text transform="translate(1327.71,1621.00) scale(0.4959,1)">43</text>
<text transform="translate(1328.81,1621.00) scale(0.4959,1)">43</text>
<text transform="translate(1329.92,1621.00) scale(0.4959,1)">43</text>
</g>
<polygon points="1324.8,1664.4 1328.4,1664.4 1337.4,1635.4 1333.8,1635.4" fill="#fff"/>
<g fill="#fff" font-size="40.71" font-weight="normal" style="letter-spacing:3.823px" >
<text transform="translate(1344.95,1664.40) scale(0.5069,1)">455</text>
<text transform="translate(1346.09,1664.40) scale(0.5069,1)">455</text>
<text transform="translate(1347.23,1664.40) scale(0.5069,1)">455</text>
</g>
<rect x="1453" y="1505" width="83" height="155" fill="#fff"/>
<rect x="1455" y="1507" width="79" height="151" fill="#b3b3b3"/>
<rect x="1455" y="1553.0" width="79" height="105.0" fill="#A8F570"/>
<g fill="#fff" font-size="77.86" font-weight="normal" style="letter-spacing:7.549px" >
<text transform="translate(1469.14,1651.70) scale(0.4909,1)">69</text>
<text transform="translate(1470.23,1651.70) scale(0.4909,1)">69</text>
<text transform="translate(1471.32,1651.70) scale(0.4909,1)">69</text>
<text transform="translate(1472.41,1651.70) scale(0.4909,1)">69</text>
<text transform="translate(1473.50,1651.70) scale(0.4909,1)">69</text>
</g>
<g fill="#fff" font-size="77.76" font-weight="normal" style="letter-spacing:8.218px" >
<text transform="translate(1658.07,1482.70) scale(0.4427,1)">O-Zone Starts</text>
<text transform="translate(1659.14,1482.70) scale(0.4427,1)">O-Zone Starts</text>
<text transform="translate(1660.21,1482.70) scale(0.4427,1)">O-Zone Starts</text>
<text transform="translate(1661.28,1482.70) scale(0.4427,1)">O-Zone Starts</text>
<text transform="translate(1662.35,1482.70) scale(0.4427,1)">O-Zone Starts</text>
</g>
<rect x="1658.6" y="1425.0" width="263.3" height="4.0" fill="#262626"/>
<rect x="1650" y="1489" width="281" height="7" fill="#fff"/>
<g fill="#fff" font-size="157.86" font-weight="normal" style="letter-spacing:14.608px" >
<text transform="translate(1696.76,1621.00) scale(0.5144,1)">32</text>
<text transform="translate(1697.87,1621.00) scale(0.5144,1)">32</text>
<text transform="translate(1698.97,1621.00) scale(0.5144,1)">32</text>
<text transform="translate(1700.08,1621.00) scale(0.5144,1)">32</text>
<text transform="translate(1701.18,1621.00) scale(0.5144,1)">32</text>
<text transform="translate(1702.29,1621.00) scale(0.5144,1)">32</text>
<text transform="translate(1703.39,1621.00) scale(0.5144,1)">32</text>
<text transform="translate(1704.50,1621.00) scale(0.5144,1)">32</text>
<text transform="translate(1705.60,1621.00) scale(0.5144,1)">32</text>
</g>
<polygon points="1719.8,1664.4 1723.4,1664.4 1732.4,1635.4 1728.8,1635.4" fill="#fff"/>
<g fill="#fff" font-size="40.71" font-weight="normal" style="letter-spacing:3.823px" >
<text transform="translate(1739.95,1664.40) scale(0.5069,1)">455</text>
<text transform="translate(1741.09,1664.40) scale(0.5069,1)">455</text>
<text transform="translate(1742.23,1664.40) scale(0.5069,1)">455</text>
</g>
<rect x="1848" y="1505" width="83" height="155" fill="#fff"/>
<rect x="1850" y="1507" width="79" height="151" fill="#b3b3b3"/>
<rect x="1850" y="1515.8" width="79" height="142.2" fill="#2CA02C"/>
<g fill="#fff" font-size="77.86" font-weight="normal" style="letter-spacing:7.512px" >
<text transform="translate(1864.03,1651.70) scale(0.4934,1)">93</text>
<text transform="translate(1865.12,1651.70) scale(0.4934,1)">93</text>
<text transform="translate(1866.21,1651.70) scale(0.4934,1)">93</text>
<text transform="translate(1867.30,1651.70) scale(0.4934,1)">93</text>
<text transform="translate(1868.39,1651.70) scale(0.4934,1)">93</text>
</g>
<g fill="#fff" font-size="77.76" font-weight="normal" style="letter-spacing:8.505px" >
<text transform="translate(58.92,1772.70) scale(0.4278,1)">On Ice Defense</text>
<text transform="translate(59.99,1772.70) scale(0.4278,1)">On Ice Defense</text>
<text transform="translate(61.06,1772.70) scale(0.4278,1)">On Ice Defense</text>
<text transform="translate(62.13,1772.70) scale(0.4278,1)">On Ice Defense</text>
<text transform="translate(63.20,1772.70) scale(0.4278,1)">On Ice Defense</text>
</g>
<rect x="59.5" y="1715.0" width="281.7" height="4.0" fill="#262626"/>
<rect x="60" y="1779" width="281" height="7" fill="#fff"/>
<g fill="#fff" font-size="157.86" font-weight="normal" style="letter-spacing:14.788px" >
<text transform="translate(81.74,1911.00) scale(0.5081,1)">429</text>
<text transform="translate(82.84,1911.00) scale(0.5081,1)">429</text>
<text transform="translate(83.95,1911.00) scale(0.5081,1)">429</text>
<text transform="translate(85.05,1911.00) scale(0.5081,1)">429</text>
<text transform="translate(86.16,1911.00) scale(0.5081,1)">429</text>
<text transform="translate(87.26,1911.00) scale(0.5081,1)">429</text>
<text transform="translate(88.37,1911.00) scale(0.5081,1)">429</text>
<text transform="translate(89.47,1911.00) scale(0.5081,1)">429</text>
<text transform="translate(90.58,1911.00) scale(0.5081,1)">429</text>
</g>
<polygon points="129.8,1954.4 133.4,1954.4 142.4,1925.4 138.8,1925.4" fill="#fff"/>
<g fill="#fff" font-size="40.71" font-weight="normal" style="letter-spacing:3.823px" >
<text transform="translate(149.95,1954.40) scale(0.5069,1)">455</text>
<text transform="translate(151.09,1954.40) scale(0.5069,1)">455</text>
<text transform="translate(152.23,1954.40) scale(0.5069,1)">455</text>
</g>
<rect x="258" y="1795" width="83" height="155" fill="#fff"/>
<rect x="260" y="1797" width="79" height="151" fill="#b3b3b3"/>
<rect x="260" y="1940.7" width="79" height="7.3" fill="#FF2400"/>
<g fill="#fff" font-size="77.86" font-weight="normal" style="letter-spacing:7.340px" >
<text transform="translate(286.23,1941.70) scale(0.5049,1)">6</text>
<text transform="translate(287.32,1941.70) scale(0.5049,1)">6</text>
<text transform="translate(288.41,1941.70) scale(0.5049,1)">6</text>
<text transform="translate(289.50,1941.70) scale(0.5049,1)">6</text>
<text transform="translate(290.59,1941.70) scale(0.5049,1)">6</text>
</g>
<g fill="#fff" font-size="77.76" font-weight="normal" style="letter-spacing:8.017px" >
<text transform="translate(515.21,1772.70) scale(0.4538,1)">Penalties</text>
<text transform="translate(516.28,1772.70) scale(0.4538,1)">Penalties</text>
<text transform="translate(517.35,1772.70) scale(0.4538,1)">Penalties</text>
<text transform="translate(518.42,1772.70) scale(0.4538,1)">Penalties</text>
<text transform="translate(519.49,1772.70) scale(0.4538,1)">Penalties</text>
</g>
<rect x="517.1" y="1715.0" width="176.4" height="4.0" fill="#262626"/>
<rect x="465" y="1779" width="281" height="7" fill="#fff"/>
<path d="M514.40,1800.30 Q511.20,1811.50 496.80,1813.90 L496.80,1825.10 L508.00,1825.10 L508.00,1911.00 L524.50,1911.00 L524.50,1800.30 Z" fill="#fff"/>
<g fill="#fff" font-size="157.86" font-weight="normal" style="letter-spacing:14.984px" >
<text transform="translate(530.94,1911.00) scale(0.5015,1)">23</text>
<text transform="translate(532.05,1911.00) scale(0.5015,1)">23</text>
<text transform="translate(533.15,1911.00) scale(0.5015,1)">23</text>
<text transform="translate(534.26,1911.00) scale(0.5015,1)">23</text>
<text transform="translate(535.36,1911.00) scale(0.5015,1)">23</text>
<text transform="translate(536.47,1911.00) scale(0.5015,1)">23</text>
<text transform="translate(537.57,1911.00) scale(0.5015,1)">23</text>
<text transform="translate(538.68,1911.00) scale(0.5015,1)">23</text>
<text transform="translate(539.78,1911.00) scale(0.5015,1)">23</text>
</g>
<polygon points="534.8,1954.4 538.4,1954.4 547.4,1925.4 543.8,1925.4" fill="#fff"/>
<g fill="#fff" font-size="40.71" font-weight="normal" style="letter-spacing:3.823px" >
<text transform="translate(554.95,1954.40) scale(0.5069,1)">455</text>
<text transform="translate(556.09,1954.40) scale(0.5069,1)">455</text>
<text transform="translate(557.23,1954.40) scale(0.5069,1)">455</text>
</g>
<rect x="663" y="1795" width="83" height="155" fill="#fff"/>
<rect x="665" y="1797" width="79" height="151" fill="#b3b3b3"/>
<rect x="665" y="1836.8" width="79" height="111.2" fill="#98F088"/>
<g fill="#fff" font-size="77.86" font-weight="normal" style="letter-spacing:8.078px" >
<text transform="translate(680.46,1941.70) scale(0.4588,1)">73</text>
<text transform="translate(681.55,1941.70) scale(0.4588,1)">73</text>
<text transform="translate(682.64,1941.70) scale(0.4588,1)">73</text>
<text transform="translate(683.73,1941.70) scale(0.4588,1)">73</text>
<text transform="translate(684.82,1941.70) scale(0.4588,1)">73</text>
</g>
<g fill="#fff" font-size="77.76" font-weight="normal" style="letter-spacing:7.756px" >
<text transform="translate(892.36,1772.70) scale(0.4691,1)">Physicality</text>
<text transform="translate(893.43,1772.70) scale(0.4691,1)">Physicality</text>
<text transform="translate(894.50,1772.70) scale(0.4691,1)">Physicality</text>
<text transform="translate(895.57,1772.70) scale(0.4691,1)">Physicality</text>
<text transform="translate(896.64,1772.70) scale(0.4691,1)">Physicality</text>
</g>
<rect x="894.3" y="1715.0" width="211.9" height="4.0" fill="#262626"/>
<rect x="860" y="1779" width="281" height="7" fill="#fff"/>
<g fill="#fff" font-size="157.86" font-weight="normal" style="letter-spacing:14.704px" >
<text transform="translate(880.07,1911.00) scale(0.5110,1)">293</text>
<text transform="translate(881.17,1911.00) scale(0.5110,1)">293</text>
<text transform="translate(882.28,1911.00) scale(0.5110,1)">293</text>
<text transform="translate(883.38,1911.00) scale(0.5110,1)">293</text>
<text transform="translate(884.49,1911.00) scale(0.5110,1)">293</text>
<text transform="translate(885.59,1911.00) scale(0.5110,1)">293</text>
<text transform="translate(886.70,1911.00) scale(0.5110,1)">293</text>
<text transform="translate(887.80,1911.00) scale(0.5110,1)">293</text>
<text transform="translate(888.91,1911.00) scale(0.5110,1)">293</text>
</g>
<polygon points="929.8,1954.4 933.4,1954.4 942.4,1925.4 938.8,1925.4" fill="#fff"/>
<g fill="#fff" font-size="40.71" font-weight="normal" style="letter-spacing:3.823px" >
<text transform="translate(949.95,1954.40) scale(0.5069,1)">455</text>
<text transform="translate(951.09,1954.40) scale(0.5069,1)">455</text>
<text transform="translate(952.23,1954.40) scale(0.5069,1)">455</text>
</g>
<rect x="1058" y="1795" width="83" height="155" fill="#fff"/>
<rect x="1060" y="1797" width="79" height="151" fill="#b3b3b3"/>
<rect x="1060" y="1894.2" width="79" height="53.8" fill="#FFCC00"/>
<g fill="#fff" font-size="77.86" font-weight="normal" style="letter-spacing:7.346px" >
<text transform="translate(1073.71,1941.70) scale(0.5045,1)">36</text>
<text transform="translate(1074.80,1941.70) scale(0.5045,1)">36</text>
<text transform="translate(1075.89,1941.70) scale(0.5045,1)">36</text>
<text transform="translate(1076.98,1941.70) scale(0.5045,1)">36</text>
<text transform="translate(1078.07,1941.70) scale(0.5045,1)">36</text>
</g>
<g fill="#fff" font-size="77.76" font-weight="normal" style="letter-spacing:7.952px" >
<text transform="translate(1311.73,1772.70) scale(0.4575,1)">Faceoffs</text>
<text transform="translate(1312.80,1772.70) scale(0.4575,1)">Faceoffs</text>
<text transform="translate(1313.87,1772.70) scale(0.4575,1)">Faceoffs</text>
<text transform="translate(1314.94,1772.70) scale(0.4575,1)">Faceoffs</text>
<text transform="translate(1316.01,1772.70) scale(0.4575,1)">Faceoffs</text>
</g>
<rect x="1313.6" y="1715.0" width="163.3" height="4.0" fill="#262626"/>
<rect x="1255" y="1779" width="281" height="7" fill="#fff"/>
<g fill="#fff" font-size="157.86" font-weight="normal" style="letter-spacing:14.663px" >
<text transform="translate(1300.56,1911.00) scale(0.5125,1)">24</text>
<text transform="translate(1301.66,1911.00) scale(0.5125,1)">24</text>
<text transform="translate(1302.77,1911.00) scale(0.5125,1)">24</text>
<text transform="translate(1303.87,1911.00) scale(0.5125,1)">24</text>
<text transform="translate(1304.98,1911.00) scale(0.5125,1)">24</text>
<text transform="translate(1306.08,1911.00) scale(0.5125,1)">24</text>
<text transform="translate(1307.19,1911.00) scale(0.5125,1)">24</text>
<text transform="translate(1308.29,1911.00) scale(0.5125,1)">24</text>
<text transform="translate(1309.40,1911.00) scale(0.5125,1)">24</text>
</g>
<polygon points="1328.0,1954.4 1331.6,1954.4 1340.6,1925.4 1337.0,1925.4" fill="#fff"/>
<g fill="#fff" font-size="40.71" font-weight="bold" style="letter-spacing:3.124px" >
<text transform="translate(1348.30,1954.40) scale(0.4342,1)">183</text>
<text transform="translate(1349.10,1954.40) scale(0.4342,1)">183</text>
<text transform="translate(1349.90,1954.40) scale(0.4342,1)">183</text>
</g>
<rect x="1453" y="1795" width="83" height="155" fill="#fff"/>
<rect x="1455" y="1797" width="79" height="151" fill="#b3b3b3"/>
<rect x="1455" y="1815.2" width="79" height="132.8" fill="#4CBB4C"/>
<g fill="#fff" font-size="77.86" font-weight="normal" style="letter-spacing:7.926px" >
<text transform="translate(1470.37,1941.70) scale(0.4676,1)">87</text>
<text transform="translate(1471.46,1941.70) scale(0.4676,1)">87</text>
<text transform="translate(1472.55,1941.70) scale(0.4676,1)">87</text>
<text transform="translate(1473.64,1941.70) scale(0.4676,1)">87</text>
<text transform="translate(1474.73,1941.70) scale(0.4676,1)">87</text>
</g>
<g fill="#fff" font-size="77.76" font-weight="normal" style="letter-spacing:8.177px" >
<text transform="translate(1714.31,1772.70) scale(0.4449,1)">Fantasy</text>
<text transform="translate(1715.38,1772.70) scale(0.4449,1)">Fantasy</text>
<text transform="translate(1716.45,1772.70) scale(0.4449,1)">Fantasy</text>
<text transform="translate(1717.52,1772.70) scale(0.4449,1)">Fantasy</text>
<text transform="translate(1718.59,1772.70) scale(0.4449,1)">Fantasy</text>
</g>
<rect x="1716.1" y="1715.0" width="148.3" height="4.0" fill="#262626"/>
<rect x="1650" y="1779" width="281" height="7" fill="#fff"/>
<g fill="#fff" font-size="157.86" font-weight="normal" style="letter-spacing:14.454px" >
<text transform="translate(1695.80,1911.00) scale(0.5198,1)">22</text>
<text transform="translate(1696.90,1911.00) scale(0.5198,1)">22</text>
<text transform="translate(1698.01,1911.00) scale(0.5198,1)">22</text>
<text transform="translate(1699.11,1911.00) scale(0.5198,1)">22</text>
<text transform="translate(1700.22,1911.00) scale(0.5198,1)">22</text>
<text transform="translate(1701.32,1911.00) scale(0.5198,1)">22</text>
<text transform="translate(1702.43,1911.00) scale(0.5198,1)">22</text>
<text transform="translate(1703.53,1911.00) scale(0.5198,1)">22</text>
<text transform="translate(1704.64,1911.00) scale(0.5198,1)">22</text>
</g>
<polygon points="1719.8,1954.4 1723.4,1954.4 1732.4,1925.4 1728.8,1925.4" fill="#fff"/>
<g fill="#fff" font-size="40.71" font-weight="normal" style="letter-spacing:3.823px" >
<text transform="translate(1739.95,1954.40) scale(0.5069,1)">455</text>
<text transform="translate(1741.09,1954.40) scale(0.5069,1)">455</text>
<text transform="translate(1742.23,1954.40) scale(0.5069,1)">455</text>
</g>
<rect x="1848" y="1795" width="83" height="155" fill="#fff"/>
<rect x="1850" y="1797" width="79" height="151" fill="#b3b3b3"/>
<rect x="1850" y="1802.8" width="79" height="145.2" fill="#1E961E"/>
<g fill="#fff" font-size="77.86" font-weight="normal" style="letter-spacing:7.623px" >
<text transform="translate(1864.31,1941.70) scale(0.4861,1)">95</text>
<text transform="translate(1865.40,1941.70) scale(0.4861,1)">95</text>
<text transform="translate(1866.49,1941.70) scale(0.4861,1)">95</text>
<text transform="translate(1867.58,1941.70) scale(0.4861,1)">95</text>
<text transform="translate(1868.67,1941.70) scale(0.4861,1)">95</text>
</g>
<rect x="920" y="745.1" width="1020.4" height="5.2" fill="#b3b3b3"/>
<g fill="#b3b3b3" font-size="43.57" font-weight="bold" >
<text transform="translate(831.00,764.00) scale(1.1842,1)">100</text>
</g>
<rect x="920" y="863.7" width="1020.4" height="5.2" fill="#b3b3b3"/>
<g fill="#b3b3b3" font-size="43.57" font-weight="bold" >
<text transform="translate(860.91,882.55) scale(1.1431,1)">75</text>
</g>
<rect x="920" y="982.2" width="1020.4" height="5.2" fill="#b3b3b3"/>
<g fill="#b3b3b3" font-size="43.57" font-weight="bold" >
<text transform="translate(860.47,1001.10) scale(1.1674,1)">50</text>
</g>
<rect x="920" y="1100.8" width="1020.4" height="5.2" fill="#b3b3b3"/>
<g fill="#b3b3b3" font-size="43.57" font-weight="bold" >
<text transform="translate(860.29,1119.65) scale(1.1563,1)">25</text>
</g>
<rect x="920" y="1219.3" width="1020.4" height="5.2" fill="#b3b3b3"/>
<g fill="#b3b3b3" font-size="43.57" font-weight="bold" >
<text transform="translate(887.90,1238.20) scale(1.2052,1)">0</text>
</g>
<polyline points="992.8,809.3 1211.4,776.2 1430.0,757.2 1648.6,757.2 1867.2,818.8" fill="none" stroke="#FF4848" stroke-width="11.5" stroke-linejoin="round"/>
<circle cx="992.8" cy="809.3" r="13.4" fill="#FF4848"/>
<circle cx="1211.4" cy="776.2" r="13.4" fill="#FF4848"/>
<circle cx="1430.0" cy="757.2" r="13.4" fill="#FF4848"/>
<circle cx="1648.6" cy="757.2" r="13.4" fill="#FF4848"/>
<circle cx="1867.2" cy="818.8" r="13.4" fill="#FF4848"/>
<polyline points="992.8,975.3 1211.4,999.0 1430.0,1112.8 1648.6,1165.0 1867.2,1198.2" fill="none" stroke="#4848FF" stroke-width="11.5" stroke-linejoin="round"/>
<circle cx="992.8" cy="975.3" r="13.4" fill="#4848FF"/>
<circle cx="1211.4" cy="999.0" r="13.4" fill="#4848FF"/>
<circle cx="1430.0" cy="1112.8" r="13.4" fill="#4848FF"/>
<circle cx="1648.6" cy="1165.0" r="13.4" fill="#4848FF"/>
<circle cx="1867.2" cy="1198.2" r="13.4" fill="#4848FF"/>
<polyline points="992.8,776.2 1211.4,795.1 1430.0,814.1 1648.6,785.6 1867.2,757.2" fill="none" stroke="#FF9999" stroke-width="5.6" stroke-linejoin="round" stroke-dasharray="20.3 8.8"/>
<circle cx="992.8" cy="776.2" r="9.4" fill="#FF9999"/>
<circle cx="1211.4" cy="795.1" r="9.4" fill="#FF9999"/>
<circle cx="1430.0" cy="814.1" r="9.4" fill="#FF9999"/>
<circle cx="1648.6" cy="785.6" r="9.4" fill="#FF9999"/>
<circle cx="1867.2" cy="757.2" r="9.4" fill="#FF9999"/>
<g fill="#fff" font-size="27.03" font-weight="bold" >
<text transform="translate(918.24,1265.20) scale(1.1544,1)">2021-2022</text>
</g>
<g fill="#fff" font-size="27.03" font-weight="bold" >
<text transform="translate(1136.84,1265.20) scale(1.1535,1)">2022-2023</text>
</g>
<g fill="#fff" font-size="27.03" font-weight="bold" >
<text transform="translate(1355.45,1265.20) scale(1.1462,1)">2023-2024</text>
</g>
<g fill="#fff" font-size="27.03" font-weight="bold" >
<text transform="translate(1574.04,1265.20) scale(1.1515,1)">2024-2025</text>
</g>
<g fill="#fff" font-size="27.03" font-weight="bold" >
<text transform="translate(1792.64,1265.20) scale(1.1535,1)">2025-2026</text>
</g>
<defs><g id="mini">
<polygon points="147.1,247.7 214.0,247.7 226.0,236.6 232.9,222.9 246.6,209.1 267.1,196.3 282.6,190.6 294.6,192.9 308.3,202.3 322.0,216.0 327.1,220.3 344.3,214.3 370.0,205.7 387.1,202.3 401.4,204.3 417.1,212.9 428.6,220.7 444.3,218.6 454.3,227.1 461.4,237.1 472.9,232.9 485.7,232.9 494.3,241.4 497.1,248.6 525.0,247.9 482.9,319.3 552.9,343.6 548.6,358.6 537.1,374.3 525.7,378.6 502.9,381.4 494.3,384.3 487.1,395.7 471.4,402.9 424.3,421.4 415.7,440.0 427.1,464.3 427.9,490.0 395.0,492.0 343.0,578.0 290.0,489.0 158.3,489.1 183.6,444.6 270.0,444.6" fill="#fff"/>
<polygon points="163.3,256.7 286.2,453.6 188.8,453.6 173.8,480.1 295.1,480.0 343.1,560.5 389.7,483.3 418.6,481.5 418.2,466.4 405.8,440.0 417.6,414.3 467.9,394.6 480.9,388.6 488.4,376.8 500.9,372.6 523.5,369.8 531.4,366.8 540.4,354.6 541.9,349.3 469.6,324.2 509.0,257.3 491.0,257.8 486.6,246.5 482.0,241.9 474.5,241.9 458.0,247.9 447.6,233.2 441.5,228.1 426.4,230.1 412.4,220.6 398.5,213.0 387.4,211.4 372.3,214.4 347.2,222.8 325.2,230.5 315.9,222.6 302.5,209.3 291.1,201.4 283.4,199.9 271.1,204.4 252.3,216.2 240.3,228.2 233.3,242.1 217.5,256.7 163.3,256.7" fill="#000"/>
<polygon points="173.0,262.0 500.0,261.5 342.0,548.0" fill="#FDB515"/>
<polygon points="236.0,262.0 262.0,278.0 266.0,290.0 261.0,307.0 262.0,324.0 268.0,336.0 275.0,350.0 290.0,385.0 305.0,420.0 325.0,450.0 338.0,458.0 360.0,450.0 372.0,470.0 360.0,500.0 392.0,480.0 398.0,445.0 410.0,418.0 444.3,359.3 428.6,318.6 414.0,300.0 412.0,290.0 400.0,275.0 395.0,262.0" fill="#000"/>
<ellipse cx="357" cy="338" rx="80" ry="47" fill="#fff" transform="rotate(42 357 338)"/>
<line x1="452" y1="282" x2="262" y2="470" stroke="#000" stroke-width="14"/><line x1="452" y1="282" x2="262" y2="470" stroke="#fff" stroke-width="6"/>
<ellipse cx="446" cy="262" rx="34" ry="30" fill="#ddd" stroke="#000" stroke-width="8" transform="rotate(-35 446 262)"/>
<ellipse cx="312" cy="432" rx="26" ry="22" fill="#ddd" stroke="#000" stroke-width="8"/>
<path d="M233,249 L206,273 L199,300 L246,281 L250,270 Z" fill="#fff" stroke="#000" stroke-width="5"/>
<polygon points="446.4,367.9 471.4,330.7 474.3,342.9 472.1,354.3 471.4,374.3 457.1,375.7" fill="#fff"/>
<polygon points="474.5,329.5 541.0,350.0 537.5,358.0 479.0,340.0" fill="#fff"/>
<polygon points="176.0,478.0 190.0,455.0 206.0,455.0 193.0,478.0" fill="#fff"/>
</g></defs>
<use href="#mini" transform="translate(950.2,1257.3) scale(0.114)"/>
<use href="#mini" transform="translate(1168.8,1257.3) scale(0.114)"/>
<use href="#mini" transform="translate(1387.4,1257.3) scale(0.114)"/>
<use href="#mini" transform="translate(1606.0,1257.3) scale(0.114)"/>
<use href="#mini" transform="translate(1824.6,1257.3) scale(0.114)"/>
<g fill="#fff" font-size="77.91" font-weight="normal" style="letter-spacing:7.900px" >
<text transform="translate(100.86,2144.10) scale(0.4614,1)">Website:</text>
<text transform="translate(101.93,2144.10) scale(0.4614,1)">Website:</text>
<text transform="translate(103.00,2144.10) scale(0.4614,1)">Website:</text>
<text transform="translate(104.07,2144.10) scale(0.4614,1)">Website:</text>
<text transform="translate(105.14,2144.10) scale(0.4614,1)">Website:</text>
</g>
<rect x="100.0" y="2086.3" width="167.6" height="4.0" fill="#262626"/>
<g fill="#fff" font-size="77.91" font-weight="normal" style="letter-spacing:7.725px" >
<text transform="translate(485.86,2144.10) scale(0.4718,1)">analyticswithavery.com</text>
<text transform="translate(486.93,2144.10) scale(0.4718,1)">analyticswithavery.com</text>
<text transform="translate(488.00,2144.10) scale(0.4718,1)">analyticswithavery.com</text>
<text transform="translate(489.07,2144.10) scale(0.4718,1)">analyticswithavery.com</text>
<text transform="translate(490.14,2144.10) scale(0.4718,1)">analyticswithavery.com</text>
</g>
<rect x="486.4" y="2086.3" width="454.1" height="4.0" fill="#262626"/>
<g fill="#fff" font-size="77.91" font-weight="normal" style="letter-spacing:8.071px" >
<text transform="translate(99.45,2227.20) scale(0.4516,1)">Socials:</text>
<text transform="translate(100.52,2227.20) scale(0.4516,1)">Socials:</text>
<text transform="translate(101.60,2227.20) scale(0.4516,1)">Socials:</text>
<text transform="translate(102.67,2227.20) scale(0.4516,1)">Socials:</text>
<text transform="translate(103.74,2227.20) scale(0.4516,1)">Socials:</text>
</g>
<rect x="100.0" y="2169.4" width="150.3" height="4.0" fill="#262626"/>
<g fill="#fff" font-size="77.91" font-weight="normal" style="letter-spacing:7.783px" >
<text transform="translate(626.77,2227.20) scale(0.4683,1)">analyticswavery</text>
<text transform="translate(627.84,2227.20) scale(0.4683,1)">analyticswavery</text>
<text transform="translate(628.91,2227.20) scale(0.4683,1)">analyticswavery</text>
<text transform="translate(629.98,2227.20) scale(0.4683,1)">analyticswavery</text>
<text transform="translate(631.06,2227.20) scale(0.4683,1)">analyticswavery</text>
</g>
<rect x="627.3" y="2169.4" width="313.2" height="4.0" fill="#262626"/>
<g fill="#fff" font-size="77.91" font-weight="normal" style="letter-spacing:8.145px" >
<text transform="translate(1059.34,2144.10) scale(0.4475,1)">Player Data From:</text>
<text transform="translate(1060.41,2144.10) scale(0.4475,1)">Player Data From:</text>
<text transform="translate(1061.49,2144.10) scale(0.4475,1)">Player Data From:</text>
<text transform="translate(1062.56,2144.10) scale(0.4475,1)">Player Data From:</text>
<text transform="translate(1063.63,2144.10) scale(0.4475,1)">Player Data From:</text>
</g>
<rect x="1061.2" y="2086.3" width="341.5" height="4.0" fill="#262626"/>
<g fill="#fff" font-size="77.91" font-weight="normal" style="letter-spacing:7.611px" >
<text transform="translate(1503.94,2144.10) scale(0.4789,1)">naturalstattrick.com</text>
<text transform="translate(1505.01,2144.10) scale(0.4789,1)">naturalstattrick.com</text>
<text transform="translate(1506.08,2144.10) scale(0.4789,1)">naturalstattrick.com</text>
<text transform="translate(1507.15,2144.10) scale(0.4789,1)">naturalstattrick.com</text>
<text transform="translate(1508.23,2144.10) scale(0.4789,1)">naturalstattrick.com</text>
</g>
<rect x="1505.4" y="2086.3" width="394.1" height="4.0" fill="#262626"/>
<g fill="#fff" font-size="77.91" font-weight="normal" style="letter-spacing:8.088px" >
<text transform="translate(1060.44,2227.20) scale(0.4507,1)">Contract Data From:</text>
<text transform="translate(1061.52,2227.20) scale(0.4507,1)">Contract Data From:</text>
<text transform="translate(1062.59,2227.20) scale(0.4507,1)">Contract Data From:</text>
<text transform="translate(1063.66,2227.20) scale(0.4507,1)">Contract Data From:</text>
<text transform="translate(1064.73,2227.20) scale(0.4507,1)">Contract Data From:</text>
</g>
<rect x="1061.2" y="2169.4" width="385.0" height="4.0" fill="#262626"/>
<g fill="#fff" font-size="77.91" font-weight="normal" style="letter-spacing:8.466px" >
<text transform="translate(1656.72,2227.20) scale(0.4305,1)">Coming Soon</text>
<text transform="translate(1657.79,2227.20) scale(0.4305,1)">Coming Soon</text>
<text transform="translate(1658.87,2227.20) scale(0.4305,1)">Coming Soon</text>
<text transform="translate(1659.94,2227.20) scale(0.4305,1)">Coming Soon</text>
<text transform="translate(1661.01,2227.20) scale(0.4305,1)">Coming Soon</text>
</g>
</svg></body></html>
